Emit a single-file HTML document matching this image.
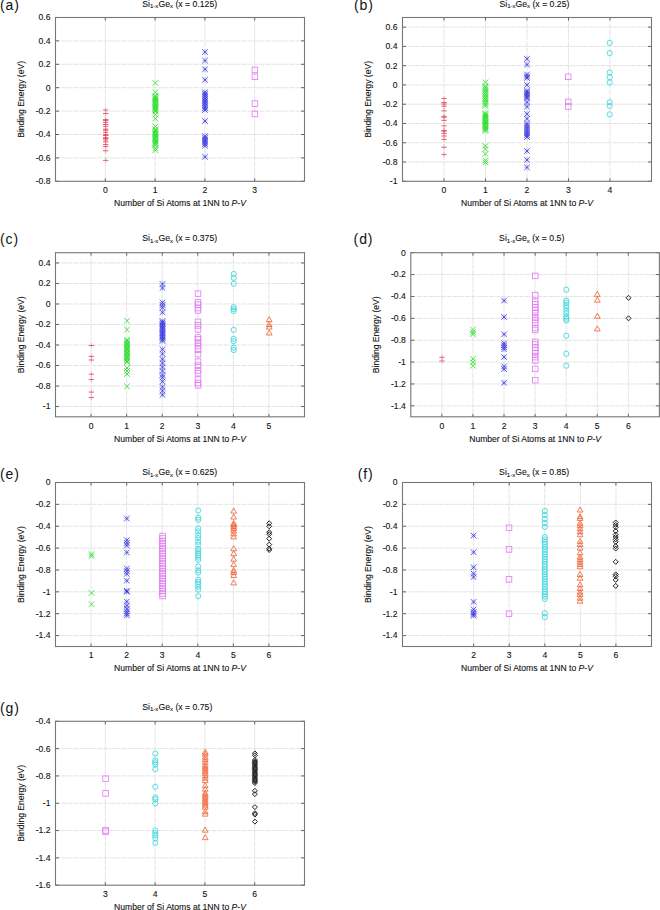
<!DOCTYPE html>
<html><head><meta charset="utf-8"><style>
html,body{margin:0;padding:0;background:#fff;}
svg{display:block;font-family:"Liberation Sans", sans-serif;}
text{stroke:#111;stroke-width:0.1px;}
#w{width:660px;height:910px;overflow:hidden;}
</style></head><body><div id="w">
<svg width="660" height="910" viewBox="0 0 660 910" fill="#111" stroke-width="0">
<rect width="660" height="910" fill="#fff"/>
<path d="M55.50 40.90H304.50M55.50 64.30H304.50M55.50 87.70H304.50M55.50 111.10H304.50M55.50 134.50H304.50M55.50 157.90H304.50M105.30 17.50V181.30M155.10 17.50V181.30M204.90 17.50V181.30M254.70 17.50V181.30" stroke="#dcdcdc" stroke-width="0.8" stroke-dasharray="5,1" fill="none"/>
<path d="M55.50 17.50h3.5M304.50 17.50h-3.5M55.50 40.90h3.5M304.50 40.90h-3.5M55.50 64.30h3.5M304.50 64.30h-3.5M55.50 87.70h3.5M304.50 87.70h-3.5M55.50 111.10h3.5M304.50 111.10h-3.5M55.50 134.50h3.5M304.50 134.50h-3.5M55.50 157.90h3.5M304.50 157.90h-3.5M55.50 181.30h3.5M304.50 181.30h-3.5M105.30 181.30v-3.0M105.30 17.50v3.0M155.10 181.30v-3.0M155.10 17.50v3.0M204.90 181.30v-3.0M204.90 17.50v3.0M254.70 181.30v-3.0M254.70 17.50v3.0" stroke="#555" stroke-width="0.9" fill="none"/>
<path d="M103.00 110.00H108.40" stroke="#e43c58" stroke-width="0.8" fill="none"/><path d="M105.70 107.30V112.70" stroke="#e43c58" stroke-width="0.8" stroke-opacity="0.45" fill="none"/>
<path d="M103.00 113.50H108.40" stroke="#e43c58" stroke-width="0.8" fill="none"/><path d="M105.70 110.80V116.20" stroke="#e43c58" stroke-width="0.8" stroke-opacity="0.45" fill="none"/>
<path d="M103.00 119.60H108.40" stroke="#e43c58" stroke-width="0.8" fill="none"/><path d="M105.70 116.90V122.30" stroke="#e43c58" stroke-width="0.8" stroke-opacity="0.45" fill="none"/>
<path d="M103.00 120.40H108.40" stroke="#e43c58" stroke-width="0.8" fill="none"/><path d="M105.70 117.70V123.10" stroke="#e43c58" stroke-width="0.8" stroke-opacity="0.45" fill="none"/>
<path d="M103.00 122.30H108.40" stroke="#e43c58" stroke-width="0.8" fill="none"/><path d="M105.70 119.60V125.00" stroke="#e43c58" stroke-width="0.8" stroke-opacity="0.45" fill="none"/>
<path d="M103.00 124.50H108.40" stroke="#e43c58" stroke-width="0.8" fill="none"/><path d="M105.70 121.80V127.20" stroke="#e43c58" stroke-width="0.8" stroke-opacity="0.45" fill="none"/>
<path d="M103.00 126.30H108.40" stroke="#e43c58" stroke-width="0.8" fill="none"/><path d="M105.70 123.60V129.00" stroke="#e43c58" stroke-width="0.8" stroke-opacity="0.45" fill="none"/>
<path d="M103.00 129.20H108.40" stroke="#e43c58" stroke-width="0.8" fill="none"/><path d="M105.70 126.50V131.90" stroke="#e43c58" stroke-width="0.8" stroke-opacity="0.45" fill="none"/>
<path d="M103.00 130.20H108.40" stroke="#e43c58" stroke-width="0.8" fill="none"/><path d="M105.70 127.50V132.90" stroke="#e43c58" stroke-width="0.8" stroke-opacity="0.45" fill="none"/>
<path d="M103.00 132.30H108.40" stroke="#e43c58" stroke-width="0.8" fill="none"/><path d="M105.70 129.60V135.00" stroke="#e43c58" stroke-width="0.8" stroke-opacity="0.45" fill="none"/>
<path d="M103.00 134.60H108.40" stroke="#e43c58" stroke-width="0.8" fill="none"/><path d="M105.70 131.90V137.30" stroke="#e43c58" stroke-width="0.8" stroke-opacity="0.45" fill="none"/>
<path d="M103.00 135.50H108.40" stroke="#e43c58" stroke-width="0.8" fill="none"/><path d="M105.70 132.80V138.20" stroke="#e43c58" stroke-width="0.8" stroke-opacity="0.45" fill="none"/>
<path d="M103.00 137.70H108.40" stroke="#e43c58" stroke-width="0.8" fill="none"/><path d="M105.70 135.00V140.40" stroke="#e43c58" stroke-width="0.8" stroke-opacity="0.45" fill="none"/>
<path d="M103.00 138.50H108.40" stroke="#e43c58" stroke-width="0.8" fill="none"/><path d="M105.70 135.80V141.20" stroke="#e43c58" stroke-width="0.8" stroke-opacity="0.45" fill="none"/>
<path d="M103.00 140.00H108.40" stroke="#e43c58" stroke-width="0.8" fill="none"/><path d="M105.70 137.30V142.70" stroke="#e43c58" stroke-width="0.8" stroke-opacity="0.45" fill="none"/>
<path d="M103.00 141.90H108.40" stroke="#e43c58" stroke-width="0.8" fill="none"/><path d="M105.70 139.20V144.60" stroke="#e43c58" stroke-width="0.8" stroke-opacity="0.45" fill="none"/>
<path d="M103.00 144.50H108.40" stroke="#e43c58" stroke-width="0.8" fill="none"/><path d="M105.70 141.80V147.20" stroke="#e43c58" stroke-width="0.8" stroke-opacity="0.45" fill="none"/>
<path d="M103.00 146.50H108.40" stroke="#e43c58" stroke-width="0.8" fill="none"/><path d="M105.70 143.80V149.20" stroke="#e43c58" stroke-width="0.8" stroke-opacity="0.45" fill="none"/>
<path d="M103.00 150.80H108.40" stroke="#e43c58" stroke-width="0.8" fill="none"/><path d="M105.70 148.10V153.50" stroke="#e43c58" stroke-width="0.8" stroke-opacity="0.45" fill="none"/>
<path d="M103.00 160.40H108.40" stroke="#e43c58" stroke-width="0.8" fill="none"/><path d="M105.70 157.70V163.10" stroke="#e43c58" stroke-width="0.8" stroke-opacity="0.45" fill="none"/>
<path d="M152.60 80.10L158.20 85.70M152.60 85.70L158.20 80.10" stroke="#22dd22" stroke-width="0.8" fill="none"/>
<path d="M152.60 89.50L158.20 95.10M152.60 95.10L158.20 89.50" stroke="#22dd22" stroke-width="0.8" fill="none"/>
<path d="M152.60 92.90L158.20 98.50M152.60 98.50L158.20 92.90" stroke="#22dd22" stroke-width="0.8" fill="none"/>
<path d="M152.60 94.12L158.20 99.72M152.60 99.72L158.20 94.12" stroke="#22dd22" stroke-width="0.8" fill="none"/>
<path d="M152.60 95.35L158.20 100.95M152.60 100.95L158.20 95.35" stroke="#22dd22" stroke-width="0.8" fill="none"/>
<path d="M152.60 96.57L158.20 102.17M152.60 102.17L158.20 96.57" stroke="#22dd22" stroke-width="0.8" fill="none"/>
<path d="M152.60 97.79L158.20 103.39M152.60 103.39L158.20 97.79" stroke="#22dd22" stroke-width="0.8" fill="none"/>
<path d="M152.60 99.02L158.20 104.62M152.60 104.62L158.20 99.02" stroke="#22dd22" stroke-width="0.8" fill="none"/>
<path d="M152.60 100.24L158.20 105.84M152.60 105.84L158.20 100.24" stroke="#22dd22" stroke-width="0.8" fill="none"/>
<path d="M152.60 101.46L158.20 107.06M152.60 107.06L158.20 101.46" stroke="#22dd22" stroke-width="0.8" fill="none"/>
<path d="M152.60 102.68L158.20 108.28M152.60 108.28L158.20 102.68" stroke="#22dd22" stroke-width="0.8" fill="none"/>
<path d="M152.60 103.91L158.20 109.51M152.60 109.51L158.20 103.91" stroke="#22dd22" stroke-width="0.8" fill="none"/>
<path d="M152.60 105.13L158.20 110.73M152.60 110.73L158.20 105.13" stroke="#22dd22" stroke-width="0.8" fill="none"/>
<path d="M152.60 106.35L158.20 111.95M152.60 111.95L158.20 106.35" stroke="#22dd22" stroke-width="0.8" fill="none"/>
<path d="M152.60 107.58L158.20 113.18M152.60 113.18L158.20 107.58" stroke="#22dd22" stroke-width="0.8" fill="none"/>
<path d="M152.60 108.80L158.20 114.40M152.60 114.40L158.20 108.80" stroke="#22dd22" stroke-width="0.8" fill="none"/>
<path d="M152.60 111.80L158.20 117.40M152.60 117.40L158.20 111.80" stroke="#22dd22" stroke-width="0.8" fill="none"/>
<path d="M152.60 115.70L158.20 121.30M152.60 121.30L158.20 115.70" stroke="#22dd22" stroke-width="0.8" fill="none"/>
<path d="M152.60 123.60L158.20 129.20M152.60 129.20L158.20 123.60" stroke="#22dd22" stroke-width="0.8" fill="none"/>
<path d="M152.60 126.60L158.20 132.20M152.60 132.20L158.20 126.60" stroke="#22dd22" stroke-width="0.8" fill="none"/>
<path d="M152.60 127.82L158.20 133.42M152.60 133.42L158.20 127.82" stroke="#22dd22" stroke-width="0.8" fill="none"/>
<path d="M152.60 129.03L158.20 134.63M152.60 134.63L158.20 129.03" stroke="#22dd22" stroke-width="0.8" fill="none"/>
<path d="M152.60 130.25L158.20 135.85M152.60 135.85L158.20 130.25" stroke="#22dd22" stroke-width="0.8" fill="none"/>
<path d="M152.60 131.46L158.20 137.06M152.60 137.06L158.20 131.46" stroke="#22dd22" stroke-width="0.8" fill="none"/>
<path d="M152.60 132.68L158.20 138.28M152.60 138.28L158.20 132.68" stroke="#22dd22" stroke-width="0.8" fill="none"/>
<path d="M152.60 133.89L158.20 139.49M152.60 139.49L158.20 133.89" stroke="#22dd22" stroke-width="0.8" fill="none"/>
<path d="M152.60 135.11L158.20 140.71M152.60 140.71L158.20 135.11" stroke="#22dd22" stroke-width="0.8" fill="none"/>
<path d="M152.60 136.32L158.20 141.92M152.60 141.92L158.20 136.32" stroke="#22dd22" stroke-width="0.8" fill="none"/>
<path d="M152.60 137.54L158.20 143.14M152.60 143.14L158.20 137.54" stroke="#22dd22" stroke-width="0.8" fill="none"/>
<path d="M152.60 138.75L158.20 144.35M152.60 144.35L158.20 138.75" stroke="#22dd22" stroke-width="0.8" fill="none"/>
<path d="M152.60 139.97L158.20 145.57M152.60 145.57L158.20 139.97" stroke="#22dd22" stroke-width="0.8" fill="none"/>
<path d="M152.60 141.18L158.20 146.78M152.60 146.78L158.20 141.18" stroke="#22dd22" stroke-width="0.8" fill="none"/>
<path d="M152.60 142.40L158.20 148.00M152.60 148.00L158.20 142.40" stroke="#22dd22" stroke-width="0.8" fill="none"/>
<path d="M152.60 145.40L158.20 151.00M152.60 151.00L158.20 145.40" stroke="#22dd22" stroke-width="0.8" fill="none"/>
<path d="M152.60 147.40L158.20 153.00M152.60 153.00L158.20 147.40" stroke="#22dd22" stroke-width="0.8" fill="none"/>
<path d="M202.20 49.30L207.80 54.90M202.20 54.90L207.80 49.30" stroke="#3434e0" stroke-width="0.8" fill="none"/><path d="M202.20 52.10H207.80M205.00 49.30V54.90" stroke="#3434e0" stroke-width="0.8" stroke-opacity="0.35" fill="none"/>
<path d="M202.20 57.80L207.80 63.40M202.20 63.40L207.80 57.80" stroke="#3434e0" stroke-width="0.8" fill="none"/><path d="M202.20 60.60H207.80M205.00 57.80V63.40" stroke="#3434e0" stroke-width="0.8" stroke-opacity="0.35" fill="none"/>
<path d="M202.20 66.50L207.80 72.10M202.20 72.10L207.80 66.50" stroke="#3434e0" stroke-width="0.8" fill="none"/><path d="M202.20 69.30H207.80M205.00 66.50V72.10" stroke="#3434e0" stroke-width="0.8" stroke-opacity="0.35" fill="none"/>
<path d="M202.20 77.00L207.80 82.60M202.20 82.60L207.80 77.00" stroke="#3434e0" stroke-width="0.8" fill="none"/><path d="M202.20 79.80H207.80M205.00 77.00V82.60" stroke="#3434e0" stroke-width="0.8" stroke-opacity="0.35" fill="none"/>
<path d="M202.20 89.40L207.80 95.00M202.20 95.00L207.80 89.40" stroke="#3434e0" stroke-width="0.8" fill="none"/><path d="M202.20 92.20H207.80M205.00 89.40V95.00" stroke="#3434e0" stroke-width="0.8" stroke-opacity="0.35" fill="none"/>
<path d="M202.20 91.18L207.80 96.78M202.20 96.78L207.80 91.18" stroke="#3434e0" stroke-width="0.8" fill="none"/><path d="M202.20 93.98H207.80M205.00 91.18V96.78" stroke="#3434e0" stroke-width="0.8" stroke-opacity="0.35" fill="none"/>
<path d="M202.20 92.96L207.80 98.56M202.20 98.56L207.80 92.96" stroke="#3434e0" stroke-width="0.8" fill="none"/><path d="M202.20 95.76H207.80M205.00 92.96V98.56" stroke="#3434e0" stroke-width="0.8" stroke-opacity="0.35" fill="none"/>
<path d="M202.20 94.74L207.80 100.34M202.20 100.34L207.80 94.74" stroke="#3434e0" stroke-width="0.8" fill="none"/><path d="M202.20 97.54H207.80M205.00 94.74V100.34" stroke="#3434e0" stroke-width="0.8" stroke-opacity="0.35" fill="none"/>
<path d="M202.20 96.52L207.80 102.12M202.20 102.12L207.80 96.52" stroke="#3434e0" stroke-width="0.8" fill="none"/><path d="M202.20 99.32H207.80M205.00 96.52V102.12" stroke="#3434e0" stroke-width="0.8" stroke-opacity="0.35" fill="none"/>
<path d="M202.20 98.30L207.80 103.90M202.20 103.90L207.80 98.30" stroke="#3434e0" stroke-width="0.8" fill="none"/><path d="M202.20 101.10H207.80M205.00 98.30V103.90" stroke="#3434e0" stroke-width="0.8" stroke-opacity="0.35" fill="none"/>
<path d="M202.20 100.08L207.80 105.68M202.20 105.68L207.80 100.08" stroke="#3434e0" stroke-width="0.8" fill="none"/><path d="M202.20 102.88H207.80M205.00 100.08V105.68" stroke="#3434e0" stroke-width="0.8" stroke-opacity="0.35" fill="none"/>
<path d="M202.20 101.86L207.80 107.46M202.20 107.46L207.80 101.86" stroke="#3434e0" stroke-width="0.8" fill="none"/><path d="M202.20 104.66H207.80M205.00 101.86V107.46" stroke="#3434e0" stroke-width="0.8" stroke-opacity="0.35" fill="none"/>
<path d="M202.20 103.64L207.80 109.24M202.20 109.24L207.80 103.64" stroke="#3434e0" stroke-width="0.8" fill="none"/><path d="M202.20 106.44H207.80M205.00 103.64V109.24" stroke="#3434e0" stroke-width="0.8" stroke-opacity="0.35" fill="none"/>
<path d="M202.20 105.42L207.80 111.02M202.20 111.02L207.80 105.42" stroke="#3434e0" stroke-width="0.8" fill="none"/><path d="M202.20 108.22H207.80M205.00 105.42V111.02" stroke="#3434e0" stroke-width="0.8" stroke-opacity="0.35" fill="none"/>
<path d="M202.20 107.20L207.80 112.80M202.20 112.80L207.80 107.20" stroke="#3434e0" stroke-width="0.8" fill="none"/><path d="M202.20 110.00H207.80M205.00 107.20V112.80" stroke="#3434e0" stroke-width="0.8" stroke-opacity="0.35" fill="none"/>
<path d="M202.20 118.20L207.80 123.80M202.20 123.80L207.80 118.20" stroke="#3434e0" stroke-width="0.8" fill="none"/><path d="M202.20 121.00H207.80M205.00 118.20V123.80" stroke="#3434e0" stroke-width="0.8" stroke-opacity="0.35" fill="none"/>
<path d="M202.20 133.40L207.80 139.00M202.20 139.00L207.80 133.40" stroke="#3434e0" stroke-width="0.8" fill="none"/><path d="M202.20 136.20H207.80M205.00 133.40V139.00" stroke="#3434e0" stroke-width="0.8" stroke-opacity="0.35" fill="none"/>
<path d="M202.20 135.32L207.80 140.92M202.20 140.92L207.80 135.32" stroke="#3434e0" stroke-width="0.8" fill="none"/><path d="M202.20 138.12H207.80M205.00 135.32V140.92" stroke="#3434e0" stroke-width="0.8" stroke-opacity="0.35" fill="none"/>
<path d="M202.20 137.24L207.80 142.84M202.20 142.84L207.80 137.24" stroke="#3434e0" stroke-width="0.8" fill="none"/><path d="M202.20 140.04H207.80M205.00 137.24V142.84" stroke="#3434e0" stroke-width="0.8" stroke-opacity="0.35" fill="none"/>
<path d="M202.20 139.16L207.80 144.76M202.20 144.76L207.80 139.16" stroke="#3434e0" stroke-width="0.8" fill="none"/><path d="M202.20 141.96H207.80M205.00 139.16V144.76" stroke="#3434e0" stroke-width="0.8" stroke-opacity="0.35" fill="none"/>
<path d="M202.20 141.08L207.80 146.68M202.20 146.68L207.80 141.08" stroke="#3434e0" stroke-width="0.8" fill="none"/><path d="M202.20 143.88H207.80M205.00 141.08V146.68" stroke="#3434e0" stroke-width="0.8" stroke-opacity="0.35" fill="none"/>
<path d="M202.20 143.00L207.80 148.60M202.20 148.60L207.80 143.00" stroke="#3434e0" stroke-width="0.8" fill="none"/><path d="M202.20 145.80H207.80M205.00 143.00V148.60" stroke="#3434e0" stroke-width="0.8" stroke-opacity="0.35" fill="none"/>
<path d="M202.20 154.00L207.80 159.60M202.20 159.60L207.80 154.00" stroke="#3434e0" stroke-width="0.8" fill="none"/><path d="M202.20 156.80H207.80M205.00 154.00V159.60" stroke="#3434e0" stroke-width="0.8" stroke-opacity="0.35" fill="none"/>
<rect x="252.10" y="67.10" width="5.60" height="5.60" stroke="#e27af2" stroke-width="0.8" fill="none"/>
<rect x="252.10" y="74.00" width="5.60" height="5.60" stroke="#e27af2" stroke-width="0.8" fill="none"/>
<rect x="252.10" y="100.80" width="5.60" height="5.60" stroke="#e27af2" stroke-width="0.8" fill="none"/>
<rect x="252.10" y="111.10" width="5.60" height="5.60" stroke="#e27af2" stroke-width="0.8" fill="none"/>
<rect x="55.50" y="17.50" width="249.00" height="163.80" stroke="#777777" stroke-width="1.1" fill="none"/>
<text x="50.50" y="20.40" font-size="8.6" text-anchor="end">0.6</text>
<text x="50.50" y="43.80" font-size="8.6" text-anchor="end">0.4</text>
<text x="50.50" y="67.20" font-size="8.6" text-anchor="end">0.2</text>
<text x="50.50" y="90.60" font-size="8.6" text-anchor="end">0</text>
<text x="50.50" y="114.00" font-size="8.6" text-anchor="end">-0.2</text>
<text x="50.50" y="137.40" font-size="8.6" text-anchor="end">-0.4</text>
<text x="50.50" y="160.80" font-size="8.6" text-anchor="end">-0.6</text>
<text x="50.50" y="184.20" font-size="8.6" text-anchor="end">-0.8</text>
<text x="105.30" y="193.20" font-size="8.6" text-anchor="middle">0</text>
<text x="155.10" y="193.20" font-size="8.6" text-anchor="middle">1</text>
<text x="204.90" y="193.20" font-size="8.6" text-anchor="middle">2</text>
<text x="254.70" y="193.20" font-size="8.6" text-anchor="middle">3</text>
<text x="180.00" y="206.10" font-size="8.6" text-anchor="middle">Number of Si Atoms at 1NN to <tspan font-style="italic">P-V</tspan></text>
<text transform="translate(23.90,99.40) rotate(-90)" x="0" y="0" font-size="8.6" text-anchor="middle">Binding Energy (eV)</text>
<text x="142.30" y="6.50" font-size="8.7">Si<tspan font-size="6.0" dy="1.8">1-x</tspan><tspan dy="-1.8">Ge</tspan><tspan font-size="6.0" dy="1.8">x</tspan><tspan dy="-1.8"> (x = 0.125)</tspan></text>
<text x="0.00" y="9.70" font-size="14" letter-spacing="0.9" style="stroke-width:0">(a)</text>
<path d="M402.50 27.14H651.50M402.50 46.41H651.50M402.50 65.68H651.50M402.50 84.95H651.50M402.50 104.22H651.50M402.50 123.49H651.50M402.50 142.76H651.50M402.50 162.03H651.50M444.00 17.50V181.30M485.50 17.50V181.30M527.00 17.50V181.30M568.50 17.50V181.30M610.00 17.50V181.30" stroke="#dcdcdc" stroke-width="0.8" stroke-dasharray="5,1" fill="none"/>
<path d="M402.50 27.14h3.5M651.50 27.14h-3.5M402.50 46.41h3.5M651.50 46.41h-3.5M402.50 65.68h3.5M651.50 65.68h-3.5M402.50 84.95h3.5M651.50 84.95h-3.5M402.50 104.22h3.5M651.50 104.22h-3.5M402.50 123.49h3.5M651.50 123.49h-3.5M402.50 142.76h3.5M651.50 142.76h-3.5M402.50 162.03h3.5M651.50 162.03h-3.5M402.50 181.30h3.5M651.50 181.30h-3.5M444.00 181.30v-3.0M444.00 17.50v3.0M485.50 181.30v-3.0M485.50 17.50v3.0M527.00 181.30v-3.0M527.00 17.50v3.0M568.50 181.30v-3.0M568.50 17.50v3.0M610.00 181.30v-3.0M610.00 17.50v3.0" stroke="#555" stroke-width="0.9" fill="none"/>
<path d="M441.40 98.50H446.80" stroke="#e43c58" stroke-width="0.8" fill="none"/><path d="M444.10 95.80V101.20" stroke="#e43c58" stroke-width="0.8" stroke-opacity="0.45" fill="none"/>
<path d="M441.40 102.50H446.80" stroke="#e43c58" stroke-width="0.8" fill="none"/><path d="M444.10 99.80V105.20" stroke="#e43c58" stroke-width="0.8" stroke-opacity="0.45" fill="none"/>
<path d="M441.40 104.00H446.80" stroke="#e43c58" stroke-width="0.8" fill="none"/><path d="M444.10 101.30V106.70" stroke="#e43c58" stroke-width="0.8" stroke-opacity="0.45" fill="none"/>
<path d="M441.40 106.20H446.80" stroke="#e43c58" stroke-width="0.8" fill="none"/><path d="M444.10 103.50V108.90" stroke="#e43c58" stroke-width="0.8" stroke-opacity="0.45" fill="none"/>
<path d="M441.40 110.90H446.80" stroke="#e43c58" stroke-width="0.8" fill="none"/><path d="M444.10 108.20V113.60" stroke="#e43c58" stroke-width="0.8" stroke-opacity="0.45" fill="none"/>
<path d="M441.40 116.30H446.80" stroke="#e43c58" stroke-width="0.8" fill="none"/><path d="M444.10 113.60V119.00" stroke="#e43c58" stroke-width="0.8" stroke-opacity="0.45" fill="none"/>
<path d="M441.40 117.20H446.80" stroke="#e43c58" stroke-width="0.8" fill="none"/><path d="M444.10 114.50V119.90" stroke="#e43c58" stroke-width="0.8" stroke-opacity="0.45" fill="none"/>
<path d="M441.40 120.40H446.80" stroke="#e43c58" stroke-width="0.8" fill="none"/><path d="M444.10 117.70V123.10" stroke="#e43c58" stroke-width="0.8" stroke-opacity="0.45" fill="none"/>
<path d="M441.40 125.80H446.80" stroke="#e43c58" stroke-width="0.8" fill="none"/><path d="M444.10 123.10V128.50" stroke="#e43c58" stroke-width="0.8" stroke-opacity="0.45" fill="none"/>
<path d="M441.40 130.50H446.80" stroke="#e43c58" stroke-width="0.8" fill="none"/><path d="M444.10 127.80V133.20" stroke="#e43c58" stroke-width="0.8" stroke-opacity="0.45" fill="none"/>
<path d="M441.40 131.20H446.80" stroke="#e43c58" stroke-width="0.8" fill="none"/><path d="M444.10 128.50V133.90" stroke="#e43c58" stroke-width="0.8" stroke-opacity="0.45" fill="none"/>
<path d="M441.40 133.40H446.80" stroke="#e43c58" stroke-width="0.8" fill="none"/><path d="M444.10 130.70V136.10" stroke="#e43c58" stroke-width="0.8" stroke-opacity="0.45" fill="none"/>
<path d="M441.40 136.00H446.80" stroke="#e43c58" stroke-width="0.8" fill="none"/><path d="M444.10 133.30V138.70" stroke="#e43c58" stroke-width="0.8" stroke-opacity="0.45" fill="none"/>
<path d="M441.40 139.40H446.80" stroke="#e43c58" stroke-width="0.8" fill="none"/><path d="M444.10 136.70V142.10" stroke="#e43c58" stroke-width="0.8" stroke-opacity="0.45" fill="none"/>
<path d="M441.40 147.30H446.80" stroke="#e43c58" stroke-width="0.8" fill="none"/><path d="M444.10 144.60V150.00" stroke="#e43c58" stroke-width="0.8" stroke-opacity="0.45" fill="none"/>
<path d="M441.40 154.60H446.80" stroke="#e43c58" stroke-width="0.8" fill="none"/><path d="M444.10 151.90V157.30" stroke="#e43c58" stroke-width="0.8" stroke-opacity="0.45" fill="none"/>
<path d="M482.60 79.50L488.20 85.10M482.60 85.10L488.20 79.50" stroke="#22dd22" stroke-width="0.8" fill="none"/>
<path d="M482.60 83.20L488.20 88.80M482.60 88.80L488.20 83.20" stroke="#22dd22" stroke-width="0.8" fill="none"/>
<path d="M482.60 84.87L488.20 90.47M482.60 90.47L488.20 84.87" stroke="#22dd22" stroke-width="0.8" fill="none"/>
<path d="M482.60 86.53L488.20 92.13M482.60 92.13L488.20 86.53" stroke="#22dd22" stroke-width="0.8" fill="none"/>
<path d="M482.60 88.20L488.20 93.80M482.60 93.80L488.20 88.20" stroke="#22dd22" stroke-width="0.8" fill="none"/>
<path d="M482.60 89.87L488.20 95.47M482.60 95.47L488.20 89.87" stroke="#22dd22" stroke-width="0.8" fill="none"/>
<path d="M482.60 91.53L488.20 97.13M482.60 97.13L488.20 91.53" stroke="#22dd22" stroke-width="0.8" fill="none"/>
<path d="M482.60 93.20L488.20 98.80M482.60 98.80L488.20 93.20" stroke="#22dd22" stroke-width="0.8" fill="none"/>
<path d="M482.60 94.87L488.20 100.47M482.60 100.47L488.20 94.87" stroke="#22dd22" stroke-width="0.8" fill="none"/>
<path d="M482.60 96.53L488.20 102.13M482.60 102.13L488.20 96.53" stroke="#22dd22" stroke-width="0.8" fill="none"/>
<path d="M482.60 98.20L488.20 103.80M482.60 103.80L488.20 98.20" stroke="#22dd22" stroke-width="0.8" fill="none"/>
<path d="M482.60 99.87L488.20 105.47M482.60 105.47L488.20 99.87" stroke="#22dd22" stroke-width="0.8" fill="none"/>
<path d="M482.60 101.53L488.20 107.13M482.60 107.13L488.20 101.53" stroke="#22dd22" stroke-width="0.8" fill="none"/>
<path d="M482.60 103.20L488.20 108.80M482.60 108.80L488.20 103.20" stroke="#22dd22" stroke-width="0.8" fill="none"/>
<path d="M482.60 110.20L488.20 115.80M482.60 115.80L488.20 110.20" stroke="#22dd22" stroke-width="0.8" fill="none"/>
<path d="M482.60 111.40L488.20 117.00M482.60 117.00L488.20 111.40" stroke="#22dd22" stroke-width="0.8" fill="none"/>
<path d="M482.60 112.60L488.20 118.20M482.60 118.20L488.20 112.60" stroke="#22dd22" stroke-width="0.8" fill="none"/>
<path d="M482.60 113.80L488.20 119.40M482.60 119.40L488.20 113.80" stroke="#22dd22" stroke-width="0.8" fill="none"/>
<path d="M482.60 115.00L488.20 120.60M482.60 120.60L488.20 115.00" stroke="#22dd22" stroke-width="0.8" fill="none"/>
<path d="M482.60 116.20L488.20 121.80M482.60 121.80L488.20 116.20" stroke="#22dd22" stroke-width="0.8" fill="none"/>
<path d="M482.60 117.40L488.20 123.00M482.60 123.00L488.20 117.40" stroke="#22dd22" stroke-width="0.8" fill="none"/>
<path d="M482.60 118.60L488.20 124.20M482.60 124.20L488.20 118.60" stroke="#22dd22" stroke-width="0.8" fill="none"/>
<path d="M482.60 119.80L488.20 125.40M482.60 125.40L488.20 119.80" stroke="#22dd22" stroke-width="0.8" fill="none"/>
<path d="M482.60 121.00L488.20 126.60M482.60 126.60L488.20 121.00" stroke="#22dd22" stroke-width="0.8" fill="none"/>
<path d="M482.60 122.20L488.20 127.80M482.60 127.80L488.20 122.20" stroke="#22dd22" stroke-width="0.8" fill="none"/>
<path d="M482.60 123.40L488.20 129.00M482.60 129.00L488.20 123.40" stroke="#22dd22" stroke-width="0.8" fill="none"/>
<path d="M482.60 124.60L488.20 130.20M482.60 130.20L488.20 124.60" stroke="#22dd22" stroke-width="0.8" fill="none"/>
<path d="M482.60 125.80L488.20 131.40M482.60 131.40L488.20 125.80" stroke="#22dd22" stroke-width="0.8" fill="none"/>
<path d="M482.60 127.00L488.20 132.60M482.60 132.60L488.20 127.00" stroke="#22dd22" stroke-width="0.8" fill="none"/>
<path d="M482.60 128.20L488.20 133.80M482.60 133.80L488.20 128.20" stroke="#22dd22" stroke-width="0.8" fill="none"/>
<path d="M482.60 143.20L488.20 148.80M482.60 148.80L488.20 143.20" stroke="#22dd22" stroke-width="0.8" fill="none"/>
<path d="M482.60 146.20L488.20 151.80M482.60 151.80L488.20 146.20" stroke="#22dd22" stroke-width="0.8" fill="none"/>
<path d="M482.60 151.20L488.20 156.80M482.60 156.80L488.20 151.20" stroke="#22dd22" stroke-width="0.8" fill="none"/>
<path d="M482.60 157.70L488.20 163.30M482.60 163.30L488.20 157.70" stroke="#22dd22" stroke-width="0.8" fill="none"/>
<path d="M482.60 159.70L488.20 165.30M482.60 165.30L488.20 159.70" stroke="#22dd22" stroke-width="0.8" fill="none"/>
<path d="M524.20 56.00L529.80 61.60M524.20 61.60L529.80 56.00" stroke="#3434e0" stroke-width="0.8" fill="none"/><path d="M524.20 58.80H529.80M527.00 56.00V61.60" stroke="#3434e0" stroke-width="0.8" stroke-opacity="0.35" fill="none"/>
<path d="M524.20 61.80L529.80 67.40M524.20 67.40L529.80 61.80" stroke="#3434e0" stroke-width="0.8" fill="none"/><path d="M524.20 64.60H529.80M527.00 61.80V67.40" stroke="#3434e0" stroke-width="0.8" stroke-opacity="0.35" fill="none"/>
<path d="M524.20 71.70L529.80 77.30M524.20 77.30L529.80 71.70" stroke="#3434e0" stroke-width="0.8" fill="none"/><path d="M524.20 74.50H529.80M527.00 71.70V77.30" stroke="#3434e0" stroke-width="0.8" stroke-opacity="0.35" fill="none"/>
<path d="M524.20 73.70L529.80 79.30M524.20 79.30L529.80 73.70" stroke="#3434e0" stroke-width="0.8" fill="none"/><path d="M524.20 76.50H529.80M527.00 73.70V79.30" stroke="#3434e0" stroke-width="0.8" stroke-opacity="0.35" fill="none"/>
<path d="M524.20 75.20L529.80 80.80M524.20 80.80L529.80 75.20" stroke="#3434e0" stroke-width="0.8" fill="none"/><path d="M524.20 78.00H529.80M527.00 75.20V80.80" stroke="#3434e0" stroke-width="0.8" stroke-opacity="0.35" fill="none"/>
<path d="M524.20 82.10L529.80 87.70M524.20 87.70L529.80 82.10" stroke="#3434e0" stroke-width="0.8" fill="none"/><path d="M524.20 84.90H529.80M527.00 82.10V87.70" stroke="#3434e0" stroke-width="0.8" stroke-opacity="0.35" fill="none"/>
<path d="M524.20 87.90L529.80 93.50M524.20 93.50L529.80 87.90" stroke="#3434e0" stroke-width="0.8" fill="none"/><path d="M524.20 90.70H529.80M527.00 87.90V93.50" stroke="#3434e0" stroke-width="0.8" stroke-opacity="0.35" fill="none"/>
<path d="M524.20 89.44L529.80 95.04M524.20 95.04L529.80 89.44" stroke="#3434e0" stroke-width="0.8" fill="none"/><path d="M524.20 92.24H529.80M527.00 89.44V95.04" stroke="#3434e0" stroke-width="0.8" stroke-opacity="0.35" fill="none"/>
<path d="M524.20 90.98L529.80 96.58M524.20 96.58L529.80 90.98" stroke="#3434e0" stroke-width="0.8" fill="none"/><path d="M524.20 93.78H529.80M527.00 90.98V96.58" stroke="#3434e0" stroke-width="0.8" stroke-opacity="0.35" fill="none"/>
<path d="M524.20 92.52L529.80 98.12M524.20 98.12L529.80 92.52" stroke="#3434e0" stroke-width="0.8" fill="none"/><path d="M524.20 95.32H529.80M527.00 92.52V98.12" stroke="#3434e0" stroke-width="0.8" stroke-opacity="0.35" fill="none"/>
<path d="M524.20 94.06L529.80 99.66M524.20 99.66L529.80 94.06" stroke="#3434e0" stroke-width="0.8" fill="none"/><path d="M524.20 96.86H529.80M527.00 94.06V99.66" stroke="#3434e0" stroke-width="0.8" stroke-opacity="0.35" fill="none"/>
<path d="M524.20 95.60L529.80 101.20M524.20 101.20L529.80 95.60" stroke="#3434e0" stroke-width="0.8" fill="none"/><path d="M524.20 98.40H529.80M527.00 95.60V101.20" stroke="#3434e0" stroke-width="0.8" stroke-opacity="0.35" fill="none"/>
<path d="M524.20 99.50L529.80 105.10M524.20 105.10L529.80 99.50" stroke="#3434e0" stroke-width="0.8" fill="none"/><path d="M524.20 102.30H529.80M527.00 99.50V105.10" stroke="#3434e0" stroke-width="0.8" stroke-opacity="0.35" fill="none"/>
<path d="M524.20 103.80L529.80 109.40M524.20 109.40L529.80 103.80" stroke="#3434e0" stroke-width="0.8" fill="none"/><path d="M524.20 106.60H529.80M527.00 103.80V109.40" stroke="#3434e0" stroke-width="0.8" stroke-opacity="0.35" fill="none"/>
<path d="M524.20 111.10L529.80 116.70M524.20 116.70L529.80 111.10" stroke="#3434e0" stroke-width="0.8" fill="none"/><path d="M524.20 113.90H529.80M527.00 111.10V116.70" stroke="#3434e0" stroke-width="0.8" stroke-opacity="0.35" fill="none"/>
<path d="M524.20 115.90L529.80 121.50M524.20 121.50L529.80 115.90" stroke="#3434e0" stroke-width="0.8" fill="none"/><path d="M524.20 118.70H529.80M527.00 115.90V121.50" stroke="#3434e0" stroke-width="0.8" stroke-opacity="0.35" fill="none"/>
<path d="M524.20 120.80L529.80 126.40M524.20 126.40L529.80 120.80" stroke="#3434e0" stroke-width="0.8" fill="none"/><path d="M524.20 123.60H529.80M527.00 120.80V126.40" stroke="#3434e0" stroke-width="0.8" stroke-opacity="0.35" fill="none"/>
<path d="M524.20 122.71L529.80 128.31M524.20 128.31L529.80 122.71" stroke="#3434e0" stroke-width="0.8" fill="none"/><path d="M524.20 125.51H529.80M527.00 122.71V128.31" stroke="#3434e0" stroke-width="0.8" stroke-opacity="0.35" fill="none"/>
<path d="M524.20 124.63L529.80 130.23M524.20 130.23L529.80 124.63" stroke="#3434e0" stroke-width="0.8" fill="none"/><path d="M524.20 127.43H529.80M527.00 124.63V130.23" stroke="#3434e0" stroke-width="0.8" stroke-opacity="0.35" fill="none"/>
<path d="M524.20 126.54L529.80 132.14M524.20 132.14L529.80 126.54" stroke="#3434e0" stroke-width="0.8" fill="none"/><path d="M524.20 129.34H529.80M527.00 126.54V132.14" stroke="#3434e0" stroke-width="0.8" stroke-opacity="0.35" fill="none"/>
<path d="M524.20 128.46L529.80 134.06M524.20 134.06L529.80 128.46" stroke="#3434e0" stroke-width="0.8" fill="none"/><path d="M524.20 131.26H529.80M527.00 128.46V134.06" stroke="#3434e0" stroke-width="0.8" stroke-opacity="0.35" fill="none"/>
<path d="M524.20 130.37L529.80 135.97M524.20 135.97L529.80 130.37" stroke="#3434e0" stroke-width="0.8" fill="none"/><path d="M524.20 133.17H529.80M527.00 130.37V135.97" stroke="#3434e0" stroke-width="0.8" stroke-opacity="0.35" fill="none"/>
<path d="M524.20 132.29L529.80 137.89M524.20 137.89L529.80 132.29" stroke="#3434e0" stroke-width="0.8" fill="none"/><path d="M524.20 135.09H529.80M527.00 132.29V137.89" stroke="#3434e0" stroke-width="0.8" stroke-opacity="0.35" fill="none"/>
<path d="M524.20 134.20L529.80 139.80M524.20 139.80L529.80 134.20" stroke="#3434e0" stroke-width="0.8" fill="none"/><path d="M524.20 137.00H529.80M527.00 134.20V139.80" stroke="#3434e0" stroke-width="0.8" stroke-opacity="0.35" fill="none"/>
<path d="M524.20 148.20L529.80 153.80M524.20 153.80L529.80 148.20" stroke="#3434e0" stroke-width="0.8" fill="none"/><path d="M524.20 151.00H529.80M527.00 148.20V153.80" stroke="#3434e0" stroke-width="0.8" stroke-opacity="0.35" fill="none"/>
<path d="M524.20 157.10L529.80 162.70M524.20 162.70L529.80 157.10" stroke="#3434e0" stroke-width="0.8" fill="none"/><path d="M524.20 159.90H529.80M527.00 157.10V162.70" stroke="#3434e0" stroke-width="0.8" stroke-opacity="0.35" fill="none"/>
<path d="M524.20 164.60L529.80 170.20M524.20 170.20L529.80 164.60" stroke="#3434e0" stroke-width="0.8" fill="none"/><path d="M524.20 167.40H529.80M527.00 164.60V170.20" stroke="#3434e0" stroke-width="0.8" stroke-opacity="0.35" fill="none"/>
<rect x="565.40" y="74.00" width="5.60" height="5.60" stroke="#e27af2" stroke-width="0.8" fill="none"/>
<rect x="565.40" y="99.10" width="5.60" height="5.60" stroke="#e27af2" stroke-width="0.8" fill="none"/>
<rect x="565.40" y="103.70" width="5.60" height="5.60" stroke="#e27af2" stroke-width="0.8" fill="none"/>
<circle cx="609.70" cy="42.90" r="2.6" stroke="#30d4dc" stroke-width="0.8" fill="none"/>
<circle cx="609.70" cy="53.10" r="2.6" stroke="#30d4dc" stroke-width="0.8" fill="none"/>
<circle cx="609.70" cy="72.50" r="2.6" stroke="#30d4dc" stroke-width="0.8" fill="none"/>
<circle cx="609.70" cy="77.20" r="2.6" stroke="#30d4dc" stroke-width="0.8" fill="none"/>
<circle cx="609.70" cy="82.50" r="2.6" stroke="#30d4dc" stroke-width="0.8" fill="none"/>
<circle cx="609.70" cy="102.30" r="2.6" stroke="#30d4dc" stroke-width="0.8" fill="none"/>
<circle cx="609.70" cy="105.90" r="2.6" stroke="#30d4dc" stroke-width="0.8" fill="none"/>
<circle cx="609.70" cy="114.40" r="2.6" stroke="#30d4dc" stroke-width="0.8" fill="none"/>
<rect x="402.50" y="17.50" width="249.00" height="163.80" stroke="#777777" stroke-width="1.1" fill="none"/>
<text x="397.50" y="30.04" font-size="8.6" text-anchor="end">0.6</text>
<text x="397.50" y="49.31" font-size="8.6" text-anchor="end">0.4</text>
<text x="397.50" y="68.58" font-size="8.6" text-anchor="end">0.2</text>
<text x="397.50" y="87.85" font-size="8.6" text-anchor="end">0</text>
<text x="397.50" y="107.12" font-size="8.6" text-anchor="end">-0.2</text>
<text x="397.50" y="126.39" font-size="8.6" text-anchor="end">-0.4</text>
<text x="397.50" y="145.66" font-size="8.6" text-anchor="end">-0.6</text>
<text x="397.50" y="164.93" font-size="8.6" text-anchor="end">-0.8</text>
<text x="397.50" y="184.20" font-size="8.6" text-anchor="end">-1</text>
<text x="444.00" y="193.20" font-size="8.6" text-anchor="middle">0</text>
<text x="485.50" y="193.20" font-size="8.6" text-anchor="middle">1</text>
<text x="527.00" y="193.20" font-size="8.6" text-anchor="middle">2</text>
<text x="568.50" y="193.20" font-size="8.6" text-anchor="middle">3</text>
<text x="610.00" y="193.20" font-size="8.6" text-anchor="middle">4</text>
<text x="527.00" y="206.10" font-size="8.6" text-anchor="middle">Number of Si Atoms at 1NN to <tspan font-style="italic">P-V</tspan></text>
<text transform="translate(370.90,99.40) rotate(-90)" x="0" y="0" font-size="8.6" text-anchor="middle">Binding Energy (eV)</text>
<text x="499.40" y="6.50" font-size="8.7">Si<tspan font-size="6.0" dy="1.8">1-x</tspan><tspan dy="-1.8">Ge</tspan><tspan font-size="6.0" dy="1.8">x</tspan><tspan dy="-1.8"> (x = 0.25)</tspan></text>
<text x="354.00" y="9.70" font-size="14" letter-spacing="0.9" style="stroke-width:0">(b)</text>
<path d="M55.50 262.96H304.50M55.50 283.47H304.50M55.50 303.98H304.50M55.50 324.49H304.50M55.50 345.01H304.50M55.50 365.52H304.50M55.50 386.03H304.50M55.50 406.54H304.50M91.07 252.70V416.80M126.64 252.70V416.80M162.21 252.70V416.80M197.79 252.70V416.80M233.36 252.70V416.80M268.93 252.70V416.80" stroke="#dcdcdc" stroke-width="0.8" stroke-dasharray="5,1" fill="none"/>
<path d="M55.50 262.96h3.5M304.50 262.96h-3.5M55.50 283.47h3.5M304.50 283.47h-3.5M55.50 303.98h3.5M304.50 303.98h-3.5M55.50 324.49h3.5M304.50 324.49h-3.5M55.50 345.01h3.5M304.50 345.01h-3.5M55.50 365.52h3.5M304.50 365.52h-3.5M55.50 386.03h3.5M304.50 386.03h-3.5M55.50 406.54h3.5M304.50 406.54h-3.5M91.07 416.80v-3.0M91.07 252.70v3.0M126.64 416.80v-3.0M126.64 252.70v3.0M162.21 416.80v-3.0M162.21 252.70v3.0M197.79 416.80v-3.0M197.79 252.70v3.0M233.36 416.80v-3.0M233.36 252.70v3.0M268.93 416.80v-3.0M268.93 252.70v3.0" stroke="#555" stroke-width="0.9" fill="none"/>
<path d="M88.70 345.50H94.10" stroke="#e43c58" stroke-width="0.8" fill="none"/><path d="M91.40 342.80V348.20" stroke="#e43c58" stroke-width="0.8" stroke-opacity="0.45" fill="none"/>
<path d="M88.70 356.40H94.10" stroke="#e43c58" stroke-width="0.8" fill="none"/><path d="M91.40 353.70V359.10" stroke="#e43c58" stroke-width="0.8" stroke-opacity="0.45" fill="none"/>
<path d="M88.70 360.00H94.10" stroke="#e43c58" stroke-width="0.8" fill="none"/><path d="M91.40 357.30V362.70" stroke="#e43c58" stroke-width="0.8" stroke-opacity="0.45" fill="none"/>
<path d="M88.70 374.10H94.10" stroke="#e43c58" stroke-width="0.8" fill="none"/><path d="M91.40 371.40V376.80" stroke="#e43c58" stroke-width="0.8" stroke-opacity="0.45" fill="none"/>
<path d="M88.70 379.50H94.10" stroke="#e43c58" stroke-width="0.8" fill="none"/><path d="M91.40 376.80V382.20" stroke="#e43c58" stroke-width="0.8" stroke-opacity="0.45" fill="none"/>
<path d="M88.70 392.10H94.10" stroke="#e43c58" stroke-width="0.8" fill="none"/><path d="M91.40 389.40V394.80" stroke="#e43c58" stroke-width="0.8" stroke-opacity="0.45" fill="none"/>
<path d="M88.70 397.50H94.10" stroke="#e43c58" stroke-width="0.8" fill="none"/><path d="M91.40 394.80V400.20" stroke="#e43c58" stroke-width="0.8" stroke-opacity="0.45" fill="none"/>
<path d="M124.20 317.90L129.80 323.50M124.20 323.50L129.80 317.90" stroke="#22dd22" stroke-width="0.8" fill="none"/>
<path d="M124.20 326.80L129.80 332.40M124.20 332.40L129.80 326.80" stroke="#22dd22" stroke-width="0.8" fill="none"/>
<path d="M124.20 337.20L129.80 342.80M124.20 342.80L129.80 337.20" stroke="#22dd22" stroke-width="0.8" fill="none"/>
<path d="M124.20 338.49L129.80 344.09M124.20 344.09L129.80 338.49" stroke="#22dd22" stroke-width="0.8" fill="none"/>
<path d="M124.20 339.79L129.80 345.39M124.20 345.39L129.80 339.79" stroke="#22dd22" stroke-width="0.8" fill="none"/>
<path d="M124.20 341.08L129.80 346.68M124.20 346.68L129.80 341.08" stroke="#22dd22" stroke-width="0.8" fill="none"/>
<path d="M124.20 342.38L129.80 347.98M124.20 347.98L129.80 342.38" stroke="#22dd22" stroke-width="0.8" fill="none"/>
<path d="M124.20 343.67L129.80 349.27M124.20 349.27L129.80 343.67" stroke="#22dd22" stroke-width="0.8" fill="none"/>
<path d="M124.20 344.96L129.80 350.56M124.20 350.56L129.80 344.96" stroke="#22dd22" stroke-width="0.8" fill="none"/>
<path d="M124.20 346.26L129.80 351.86M124.20 351.86L129.80 346.26" stroke="#22dd22" stroke-width="0.8" fill="none"/>
<path d="M124.20 347.55L129.80 353.15M124.20 353.15L129.80 347.55" stroke="#22dd22" stroke-width="0.8" fill="none"/>
<path d="M124.20 348.85L129.80 354.45M124.20 354.45L129.80 348.85" stroke="#22dd22" stroke-width="0.8" fill="none"/>
<path d="M124.20 350.14L129.80 355.74M124.20 355.74L129.80 350.14" stroke="#22dd22" stroke-width="0.8" fill="none"/>
<path d="M124.20 351.44L129.80 357.04M124.20 357.04L129.80 351.44" stroke="#22dd22" stroke-width="0.8" fill="none"/>
<path d="M124.20 352.73L129.80 358.33M124.20 358.33L129.80 352.73" stroke="#22dd22" stroke-width="0.8" fill="none"/>
<path d="M124.20 354.02L129.80 359.62M124.20 359.62L129.80 354.02" stroke="#22dd22" stroke-width="0.8" fill="none"/>
<path d="M124.20 355.32L129.80 360.92M124.20 360.92L129.80 355.32" stroke="#22dd22" stroke-width="0.8" fill="none"/>
<path d="M124.20 356.61L129.80 362.21M124.20 362.21L129.80 356.61" stroke="#22dd22" stroke-width="0.8" fill="none"/>
<path d="M124.20 357.91L129.80 363.51M124.20 363.51L129.80 357.91" stroke="#22dd22" stroke-width="0.8" fill="none"/>
<path d="M124.20 359.20L129.80 364.80M124.20 364.80L129.80 359.20" stroke="#22dd22" stroke-width="0.8" fill="none"/>
<path d="M124.20 365.20L129.80 370.80M124.20 370.80L129.80 365.20" stroke="#22dd22" stroke-width="0.8" fill="none"/>
<path d="M124.20 368.20L129.80 373.80M124.20 373.80L129.80 368.20" stroke="#22dd22" stroke-width="0.8" fill="none"/>
<path d="M124.20 371.20L129.80 376.80M124.20 376.80L129.80 371.20" stroke="#22dd22" stroke-width="0.8" fill="none"/>
<path d="M124.20 383.60L129.80 389.20M124.20 389.20L129.80 383.60" stroke="#22dd22" stroke-width="0.8" fill="none"/>
<path d="M159.70 281.20L165.30 286.80M159.70 286.80L165.30 281.20" stroke="#3434e0" stroke-width="0.8" fill="none"/><path d="M159.70 284.00H165.30M162.50 281.20V286.80" stroke="#3434e0" stroke-width="0.8" stroke-opacity="0.35" fill="none"/>
<path d="M159.70 285.10L165.30 290.70M159.70 290.70L165.30 285.10" stroke="#3434e0" stroke-width="0.8" fill="none"/><path d="M159.70 287.90H165.30M162.50 285.10V290.70" stroke="#3434e0" stroke-width="0.8" stroke-opacity="0.35" fill="none"/>
<path d="M159.70 299.60L165.30 305.20M159.70 305.20L165.30 299.60" stroke="#3434e0" stroke-width="0.8" fill="none"/><path d="M159.70 302.40H165.30M162.50 299.60V305.20" stroke="#3434e0" stroke-width="0.8" stroke-opacity="0.35" fill="none"/>
<path d="M159.70 302.20L165.30 307.80M159.70 307.80L165.30 302.20" stroke="#3434e0" stroke-width="0.8" fill="none"/><path d="M159.70 305.00H165.30M162.50 302.20V307.80" stroke="#3434e0" stroke-width="0.8" stroke-opacity="0.35" fill="none"/>
<path d="M159.70 304.90L165.30 310.50M159.70 310.50L165.30 304.90" stroke="#3434e0" stroke-width="0.8" fill="none"/><path d="M159.70 307.70H165.30M162.50 304.90V310.50" stroke="#3434e0" stroke-width="0.8" stroke-opacity="0.35" fill="none"/>
<path d="M159.70 309.50L165.30 315.10M159.70 315.10L165.30 309.50" stroke="#3434e0" stroke-width="0.8" fill="none"/><path d="M159.70 312.30H165.30M162.50 309.50V315.10" stroke="#3434e0" stroke-width="0.8" stroke-opacity="0.35" fill="none"/>
<path d="M159.70 318.20L165.30 323.80M159.70 323.80L165.30 318.20" stroke="#3434e0" stroke-width="0.8" fill="none"/><path d="M159.70 321.00H165.30M162.50 318.20V323.80" stroke="#3434e0" stroke-width="0.8" stroke-opacity="0.35" fill="none"/>
<path d="M159.70 319.74L165.30 325.34M159.70 325.34L165.30 319.74" stroke="#3434e0" stroke-width="0.8" fill="none"/><path d="M159.70 322.54H165.30M162.50 319.74V325.34" stroke="#3434e0" stroke-width="0.8" stroke-opacity="0.35" fill="none"/>
<path d="M159.70 321.28L165.30 326.88M159.70 326.88L165.30 321.28" stroke="#3434e0" stroke-width="0.8" fill="none"/><path d="M159.70 324.08H165.30M162.50 321.28V326.88" stroke="#3434e0" stroke-width="0.8" stroke-opacity="0.35" fill="none"/>
<path d="M159.70 322.82L165.30 328.42M159.70 328.42L165.30 322.82" stroke="#3434e0" stroke-width="0.8" fill="none"/><path d="M159.70 325.62H165.30M162.50 322.82V328.42" stroke="#3434e0" stroke-width="0.8" stroke-opacity="0.35" fill="none"/>
<path d="M159.70 324.35L165.30 329.95M159.70 329.95L165.30 324.35" stroke="#3434e0" stroke-width="0.8" fill="none"/><path d="M159.70 327.15H165.30M162.50 324.35V329.95" stroke="#3434e0" stroke-width="0.8" stroke-opacity="0.35" fill="none"/>
<path d="M159.70 325.89L165.30 331.49M159.70 331.49L165.30 325.89" stroke="#3434e0" stroke-width="0.8" fill="none"/><path d="M159.70 328.69H165.30M162.50 325.89V331.49" stroke="#3434e0" stroke-width="0.8" stroke-opacity="0.35" fill="none"/>
<path d="M159.70 327.43L165.30 333.03M159.70 333.03L165.30 327.43" stroke="#3434e0" stroke-width="0.8" fill="none"/><path d="M159.70 330.23H165.30M162.50 327.43V333.03" stroke="#3434e0" stroke-width="0.8" stroke-opacity="0.35" fill="none"/>
<path d="M159.70 328.97L165.30 334.57M159.70 334.57L165.30 328.97" stroke="#3434e0" stroke-width="0.8" fill="none"/><path d="M159.70 331.77H165.30M162.50 328.97V334.57" stroke="#3434e0" stroke-width="0.8" stroke-opacity="0.35" fill="none"/>
<path d="M159.70 330.51L165.30 336.11M159.70 336.11L165.30 330.51" stroke="#3434e0" stroke-width="0.8" fill="none"/><path d="M159.70 333.31H165.30M162.50 330.51V336.11" stroke="#3434e0" stroke-width="0.8" stroke-opacity="0.35" fill="none"/>
<path d="M159.70 332.05L165.30 337.65M159.70 337.65L165.30 332.05" stroke="#3434e0" stroke-width="0.8" fill="none"/><path d="M159.70 334.85H165.30M162.50 332.05V337.65" stroke="#3434e0" stroke-width="0.8" stroke-opacity="0.35" fill="none"/>
<path d="M159.70 333.58L165.30 339.18M159.70 339.18L165.30 333.58" stroke="#3434e0" stroke-width="0.8" fill="none"/><path d="M159.70 336.38H165.30M162.50 333.58V339.18" stroke="#3434e0" stroke-width="0.8" stroke-opacity="0.35" fill="none"/>
<path d="M159.70 335.12L165.30 340.72M159.70 340.72L165.30 335.12" stroke="#3434e0" stroke-width="0.8" fill="none"/><path d="M159.70 337.92H165.30M162.50 335.12V340.72" stroke="#3434e0" stroke-width="0.8" stroke-opacity="0.35" fill="none"/>
<path d="M159.70 336.66L165.30 342.26M159.70 342.26L165.30 336.66" stroke="#3434e0" stroke-width="0.8" fill="none"/><path d="M159.70 339.46H165.30M162.50 336.66V342.26" stroke="#3434e0" stroke-width="0.8" stroke-opacity="0.35" fill="none"/>
<path d="M159.70 338.20L165.30 343.80M159.70 343.80L165.30 338.20" stroke="#3434e0" stroke-width="0.8" fill="none"/><path d="M159.70 341.00H165.30M162.50 338.20V343.80" stroke="#3434e0" stroke-width="0.8" stroke-opacity="0.35" fill="none"/>
<path d="M159.70 346.50L165.30 352.10M159.70 352.10L165.30 346.50" stroke="#3434e0" stroke-width="0.8" fill="none"/><path d="M159.70 349.30H165.30M162.50 346.50V352.10" stroke="#3434e0" stroke-width="0.8" stroke-opacity="0.35" fill="none"/>
<path d="M159.70 351.10L165.30 356.70M159.70 356.70L165.30 351.10" stroke="#3434e0" stroke-width="0.8" fill="none"/><path d="M159.70 353.90H165.30M162.50 351.10V356.70" stroke="#3434e0" stroke-width="0.8" stroke-opacity="0.35" fill="none"/>
<path d="M159.70 356.40L165.30 362.00M159.70 362.00L165.30 356.40" stroke="#3434e0" stroke-width="0.8" fill="none"/><path d="M159.70 359.20H165.30M162.50 356.40V362.00" stroke="#3434e0" stroke-width="0.8" stroke-opacity="0.35" fill="none"/>
<path d="M159.70 360.30L165.30 365.90M159.70 365.90L165.30 360.30" stroke="#3434e0" stroke-width="0.8" fill="none"/><path d="M159.70 363.10H165.30M162.50 360.30V365.90" stroke="#3434e0" stroke-width="0.8" stroke-opacity="0.35" fill="none"/>
<path d="M159.70 364.30L165.30 369.90M159.70 369.90L165.30 364.30" stroke="#3434e0" stroke-width="0.8" fill="none"/><path d="M159.70 367.10H165.30M162.50 364.30V369.90" stroke="#3434e0" stroke-width="0.8" stroke-opacity="0.35" fill="none"/>
<path d="M159.70 368.20L165.30 373.80M159.70 373.80L165.30 368.20" stroke="#3434e0" stroke-width="0.8" fill="none"/><path d="M159.70 371.00H165.30M162.50 368.20V373.80" stroke="#3434e0" stroke-width="0.8" stroke-opacity="0.35" fill="none"/>
<path d="M159.70 372.20L165.30 377.80M159.70 377.80L165.30 372.20" stroke="#3434e0" stroke-width="0.8" fill="none"/><path d="M159.70 375.00H165.30M162.50 372.20V377.80" stroke="#3434e0" stroke-width="0.8" stroke-opacity="0.35" fill="none"/>
<path d="M159.70 374.80L165.30 380.40M159.70 380.40L165.30 374.80" stroke="#3434e0" stroke-width="0.8" fill="none"/><path d="M159.70 377.60H165.30M162.50 374.80V380.40" stroke="#3434e0" stroke-width="0.8" stroke-opacity="0.35" fill="none"/>
<path d="M159.70 378.80L165.30 384.40M159.70 384.40L165.30 378.80" stroke="#3434e0" stroke-width="0.8" fill="none"/><path d="M159.70 381.60H165.30M162.50 378.80V384.40" stroke="#3434e0" stroke-width="0.8" stroke-opacity="0.35" fill="none"/>
<path d="M159.70 384.10L165.30 389.70M159.70 389.70L165.30 384.10" stroke="#3434e0" stroke-width="0.8" fill="none"/><path d="M159.70 386.90H165.30M162.50 384.10V389.70" stroke="#3434e0" stroke-width="0.8" stroke-opacity="0.35" fill="none"/>
<path d="M159.70 388.00L165.30 393.60M159.70 393.60L165.30 388.00" stroke="#3434e0" stroke-width="0.8" fill="none"/><path d="M159.70 390.80H165.30M162.50 388.00V393.60" stroke="#3434e0" stroke-width="0.8" stroke-opacity="0.35" fill="none"/>
<path d="M159.70 392.00L165.30 397.60M159.70 397.60L165.30 392.00" stroke="#3434e0" stroke-width="0.8" fill="none"/><path d="M159.70 394.80H165.30M162.50 392.00V397.60" stroke="#3434e0" stroke-width="0.8" stroke-opacity="0.35" fill="none"/>
<rect x="195.20" y="290.90" width="5.60" height="5.60" stroke="#e27af2" stroke-width="0.8" fill="none"/>
<rect x="195.20" y="299.50" width="5.60" height="5.60" stroke="#e27af2" stroke-width="0.8" fill="none"/>
<rect x="195.20" y="301.80" width="5.60" height="5.60" stroke="#e27af2" stroke-width="0.8" fill="none"/>
<rect x="195.20" y="305.30" width="5.60" height="5.60" stroke="#e27af2" stroke-width="0.8" fill="none"/>
<rect x="195.20" y="307.60" width="5.60" height="5.60" stroke="#e27af2" stroke-width="0.8" fill="none"/>
<rect x="195.20" y="319.10" width="5.60" height="5.60" stroke="#e27af2" stroke-width="0.8" fill="none"/>
<rect x="195.20" y="322.60" width="5.60" height="5.60" stroke="#e27af2" stroke-width="0.8" fill="none"/>
<rect x="195.20" y="326.60" width="5.60" height="5.60" stroke="#e27af2" stroke-width="0.8" fill="none"/>
<rect x="195.20" y="334.70" width="5.60" height="5.60" stroke="#e27af2" stroke-width="0.8" fill="none"/>
<rect x="195.20" y="336.40" width="5.60" height="5.60" stroke="#e27af2" stroke-width="0.8" fill="none"/>
<rect x="195.20" y="339.90" width="5.60" height="5.60" stroke="#e27af2" stroke-width="0.8" fill="none"/>
<rect x="195.20" y="343.30" width="5.60" height="5.60" stroke="#e27af2" stroke-width="0.8" fill="none"/>
<rect x="195.20" y="346.80" width="5.60" height="5.60" stroke="#e27af2" stroke-width="0.8" fill="none"/>
<rect x="195.20" y="351.40" width="5.60" height="5.60" stroke="#e27af2" stroke-width="0.8" fill="none"/>
<rect x="195.20" y="358.90" width="5.60" height="5.60" stroke="#e27af2" stroke-width="0.8" fill="none"/>
<rect x="195.20" y="362.90" width="5.60" height="5.60" stroke="#e27af2" stroke-width="0.8" fill="none"/>
<rect x="195.20" y="367.60" width="5.60" height="5.60" stroke="#e27af2" stroke-width="0.8" fill="none"/>
<rect x="195.20" y="370.40" width="5.60" height="5.60" stroke="#e27af2" stroke-width="0.8" fill="none"/>
<rect x="195.20" y="376.80" width="5.60" height="5.60" stroke="#e27af2" stroke-width="0.8" fill="none"/>
<rect x="195.20" y="380.20" width="5.60" height="5.60" stroke="#e27af2" stroke-width="0.8" fill="none"/>
<rect x="195.20" y="382.50" width="5.60" height="5.60" stroke="#e27af2" stroke-width="0.8" fill="none"/>
<circle cx="233.70" cy="273.90" r="2.6" stroke="#30d4dc" stroke-width="0.8" fill="none"/>
<circle cx="233.70" cy="277.90" r="2.6" stroke="#30d4dc" stroke-width="0.8" fill="none"/>
<circle cx="233.70" cy="283.80" r="2.6" stroke="#30d4dc" stroke-width="0.8" fill="none"/>
<circle cx="233.70" cy="307.10" r="2.6" stroke="#30d4dc" stroke-width="0.8" fill="none"/>
<circle cx="233.70" cy="309.10" r="2.6" stroke="#30d4dc" stroke-width="0.8" fill="none"/>
<circle cx="233.70" cy="311.00" r="2.6" stroke="#30d4dc" stroke-width="0.8" fill="none"/>
<circle cx="233.70" cy="329.90" r="2.6" stroke="#30d4dc" stroke-width="0.8" fill="none"/>
<circle cx="233.70" cy="338.80" r="2.6" stroke="#30d4dc" stroke-width="0.8" fill="none"/>
<circle cx="233.70" cy="341.20" r="2.6" stroke="#30d4dc" stroke-width="0.8" fill="none"/>
<circle cx="233.70" cy="347.70" r="2.6" stroke="#30d4dc" stroke-width="0.8" fill="none"/>
<circle cx="233.70" cy="350.10" r="2.6" stroke="#30d4dc" stroke-width="0.8" fill="none"/>
<path d="M269.20 316.60L272.10 321.68H266.30Z" stroke="#f06030" stroke-width="0.8" fill="none"/>
<path d="M269.20 321.50L272.10 326.57H266.30Z" stroke="#f06030" stroke-width="0.8" fill="none"/>
<path d="M269.20 324.00L272.10 329.07H266.30Z" stroke="#f06030" stroke-width="0.8" fill="none"/>
<path d="M269.20 329.90L272.10 334.98H266.30Z" stroke="#f06030" stroke-width="0.8" fill="none"/>
<rect x="55.50" y="252.70" width="249.00" height="164.10" stroke="#777777" stroke-width="1.1" fill="none"/>
<text x="50.50" y="265.86" font-size="8.6" text-anchor="end">0.4</text>
<text x="50.50" y="286.37" font-size="8.6" text-anchor="end">0.2</text>
<text x="50.50" y="306.88" font-size="8.6" text-anchor="end">0</text>
<text x="50.50" y="327.39" font-size="8.6" text-anchor="end">-0.2</text>
<text x="50.50" y="347.91" font-size="8.6" text-anchor="end">-0.4</text>
<text x="50.50" y="368.42" font-size="8.6" text-anchor="end">-0.6</text>
<text x="50.50" y="388.93" font-size="8.6" text-anchor="end">-0.8</text>
<text x="50.50" y="409.44" font-size="8.6" text-anchor="end">-1</text>
<text x="91.07" y="428.70" font-size="8.6" text-anchor="middle">0</text>
<text x="126.64" y="428.70" font-size="8.6" text-anchor="middle">1</text>
<text x="162.21" y="428.70" font-size="8.6" text-anchor="middle">2</text>
<text x="197.79" y="428.70" font-size="8.6" text-anchor="middle">3</text>
<text x="233.36" y="428.70" font-size="8.6" text-anchor="middle">4</text>
<text x="268.93" y="428.70" font-size="8.6" text-anchor="middle">5</text>
<text x="180.00" y="441.60" font-size="8.6" text-anchor="middle">Number of Si Atoms at 1NN to <tspan font-style="italic">P-V</tspan></text>
<text transform="translate(23.90,334.75) rotate(-90)" x="0" y="0" font-size="8.6" text-anchor="middle">Binding Energy (eV)</text>
<text x="142.30" y="241.00" font-size="8.7">Si<tspan font-size="6.0" dy="1.8">1-x</tspan><tspan dy="-1.8">Ge</tspan><tspan font-size="6.0" dy="1.8">x</tspan><tspan dy="-1.8"> (x = 0.375)</tspan></text>
<text x="0.00" y="244.20" font-size="14" letter-spacing="0.9" style="stroke-width:0">(c)</text>
<path d="M410.80 274.58H659.40M410.80 296.46H659.40M410.80 318.34H659.40M410.80 340.22H659.40M410.80 362.10H659.40M410.80 383.98H659.40M410.80 405.86H659.40M441.88 252.70V416.80M472.95 252.70V416.80M504.02 252.70V416.80M535.10 252.70V416.80M566.17 252.70V416.80M597.25 252.70V416.80M628.33 252.70V416.80" stroke="#dcdcdc" stroke-width="0.8" stroke-dasharray="5,1" fill="none"/>
<path d="M410.80 252.70h3.5M659.40 252.70h-3.5M410.80 274.58h3.5M659.40 274.58h-3.5M410.80 296.46h3.5M659.40 296.46h-3.5M410.80 318.34h3.5M659.40 318.34h-3.5M410.80 340.22h3.5M659.40 340.22h-3.5M410.80 362.10h3.5M659.40 362.10h-3.5M410.80 383.98h3.5M659.40 383.98h-3.5M410.80 405.86h3.5M659.40 405.86h-3.5M441.88 416.80v-3.0M441.88 252.70v3.0M472.95 416.80v-3.0M472.95 252.70v3.0M504.02 416.80v-3.0M504.02 252.70v3.0M535.10 416.80v-3.0M535.10 252.70v3.0M566.17 416.80v-3.0M566.17 252.70v3.0M597.25 416.80v-3.0M597.25 252.70v3.0M628.33 416.80v-3.0M628.33 252.70v3.0" stroke="#555" stroke-width="0.9" fill="none"/>
<path d="M439.30 357.30H444.70" stroke="#e43c58" stroke-width="0.8" fill="none"/><path d="M442.00 354.60V360.00" stroke="#e43c58" stroke-width="0.8" stroke-opacity="0.45" fill="none"/>
<path d="M439.30 361.00H444.70" stroke="#e43c58" stroke-width="0.8" fill="none"/><path d="M442.00 358.30V363.70" stroke="#e43c58" stroke-width="0.8" stroke-opacity="0.45" fill="none"/>
<path d="M470.20 326.80L475.80 332.40M470.20 332.40L475.80 326.80" stroke="#22dd22" stroke-width="0.8" fill="none"/>
<path d="M470.20 329.50L475.80 335.10M470.20 335.10L475.80 329.50" stroke="#22dd22" stroke-width="0.8" fill="none"/>
<path d="M470.20 331.50L475.80 337.10M470.20 337.10L475.80 331.50" stroke="#22dd22" stroke-width="0.8" fill="none"/>
<path d="M470.20 356.10L475.80 361.70M470.20 361.70L475.80 356.10" stroke="#22dd22" stroke-width="0.8" fill="none"/>
<path d="M470.20 359.50L475.80 365.10M470.20 365.10L475.80 359.50" stroke="#22dd22" stroke-width="0.8" fill="none"/>
<path d="M470.20 362.90L475.80 368.50M470.20 368.50L475.80 362.90" stroke="#22dd22" stroke-width="0.8" fill="none"/>
<path d="M501.30 297.80L506.90 303.40M501.30 303.40L506.90 297.80" stroke="#3434e0" stroke-width="0.8" fill="none"/><path d="M501.30 300.60H506.90M504.10 297.80V303.40" stroke="#3434e0" stroke-width="0.8" stroke-opacity="0.35" fill="none"/>
<path d="M501.30 314.20L506.90 319.80M501.30 319.80L506.90 314.20" stroke="#3434e0" stroke-width="0.8" fill="none"/><path d="M501.30 317.00H506.90M504.10 314.20V319.80" stroke="#3434e0" stroke-width="0.8" stroke-opacity="0.35" fill="none"/>
<path d="M501.30 331.50L506.90 337.10M501.30 337.10L506.90 331.50" stroke="#3434e0" stroke-width="0.8" fill="none"/><path d="M501.30 334.30H506.90M504.10 331.50V337.10" stroke="#3434e0" stroke-width="0.8" stroke-opacity="0.35" fill="none"/>
<path d="M501.30 340.40L506.90 346.00M501.30 346.00L506.90 340.40" stroke="#3434e0" stroke-width="0.8" fill="none"/><path d="M501.30 343.20H506.90M504.10 340.40V346.00" stroke="#3434e0" stroke-width="0.8" stroke-opacity="0.35" fill="none"/>
<path d="M501.30 342.50L506.90 348.10M501.30 348.10L506.90 342.50" stroke="#3434e0" stroke-width="0.8" fill="none"/><path d="M501.30 345.30H506.90M504.10 342.50V348.10" stroke="#3434e0" stroke-width="0.8" stroke-opacity="0.35" fill="none"/>
<path d="M501.30 344.50L506.90 350.10M501.30 350.10L506.90 344.50" stroke="#3434e0" stroke-width="0.8" fill="none"/><path d="M501.30 347.30H506.90M504.10 344.50V350.10" stroke="#3434e0" stroke-width="0.8" stroke-opacity="0.35" fill="none"/>
<path d="M501.30 346.50L506.90 352.10M501.30 352.10L506.90 346.50" stroke="#3434e0" stroke-width="0.8" fill="none"/><path d="M501.30 349.30H506.90M504.10 346.50V352.10" stroke="#3434e0" stroke-width="0.8" stroke-opacity="0.35" fill="none"/>
<path d="M501.30 354.30L506.90 359.90M501.30 359.90L506.90 354.30" stroke="#3434e0" stroke-width="0.8" fill="none"/><path d="M501.30 357.10H506.90M504.10 354.30V359.90" stroke="#3434e0" stroke-width="0.8" stroke-opacity="0.35" fill="none"/>
<path d="M501.30 363.60L506.90 369.20M501.30 369.20L506.90 363.60" stroke="#3434e0" stroke-width="0.8" fill="none"/><path d="M501.30 366.40H506.90M504.10 363.60V369.20" stroke="#3434e0" stroke-width="0.8" stroke-opacity="0.35" fill="none"/>
<path d="M501.30 366.30L506.90 371.90M501.30 371.90L506.90 366.30" stroke="#3434e0" stroke-width="0.8" fill="none"/><path d="M501.30 369.10H506.90M504.10 366.30V371.90" stroke="#3434e0" stroke-width="0.8" stroke-opacity="0.35" fill="none"/>
<path d="M501.30 380.00L506.90 385.60M501.30 385.60L506.90 380.00" stroke="#3434e0" stroke-width="0.8" fill="none"/><path d="M501.30 382.80H506.90M504.10 380.00V385.60" stroke="#3434e0" stroke-width="0.8" stroke-opacity="0.35" fill="none"/>
<rect x="532.40" y="273.10" width="5.60" height="5.60" stroke="#e27af2" stroke-width="0.8" fill="none"/>
<rect x="532.40" y="292.30" width="5.60" height="5.60" stroke="#e27af2" stroke-width="0.8" fill="none"/>
<rect x="532.40" y="298.90" width="5.60" height="5.60" stroke="#e27af2" stroke-width="0.8" fill="none"/>
<rect x="532.40" y="301.50" width="5.60" height="5.60" stroke="#e27af2" stroke-width="0.8" fill="none"/>
<rect x="532.40" y="304.80" width="5.60" height="5.60" stroke="#e27af2" stroke-width="0.8" fill="none"/>
<rect x="532.40" y="307.40" width="5.60" height="5.60" stroke="#e27af2" stroke-width="0.8" fill="none"/>
<rect x="532.40" y="310.10" width="5.60" height="5.60" stroke="#e27af2" stroke-width="0.8" fill="none"/>
<rect x="532.40" y="314.70" width="5.60" height="5.60" stroke="#e27af2" stroke-width="0.8" fill="none"/>
<rect x="532.40" y="317.30" width="5.60" height="5.60" stroke="#e27af2" stroke-width="0.8" fill="none"/>
<rect x="532.40" y="320.00" width="5.60" height="5.60" stroke="#e27af2" stroke-width="0.8" fill="none"/>
<rect x="532.40" y="325.20" width="5.60" height="5.60" stroke="#e27af2" stroke-width="0.8" fill="none"/>
<rect x="532.40" y="327.20" width="5.60" height="5.60" stroke="#e27af2" stroke-width="0.8" fill="none"/>
<rect x="532.40" y="339.10" width="5.60" height="5.60" stroke="#e27af2" stroke-width="0.8" fill="none"/>
<rect x="532.40" y="341.70" width="5.60" height="5.60" stroke="#e27af2" stroke-width="0.8" fill="none"/>
<rect x="532.40" y="345.00" width="5.60" height="5.60" stroke="#e27af2" stroke-width="0.8" fill="none"/>
<rect x="532.40" y="347.70" width="5.60" height="5.60" stroke="#e27af2" stroke-width="0.8" fill="none"/>
<rect x="532.40" y="350.30" width="5.60" height="5.60" stroke="#e27af2" stroke-width="0.8" fill="none"/>
<rect x="532.40" y="354.30" width="5.60" height="5.60" stroke="#e27af2" stroke-width="0.8" fill="none"/>
<rect x="532.40" y="357.60" width="5.60" height="5.60" stroke="#e27af2" stroke-width="0.8" fill="none"/>
<rect x="532.40" y="366.10" width="5.60" height="5.60" stroke="#e27af2" stroke-width="0.8" fill="none"/>
<rect x="532.40" y="377.40" width="5.60" height="5.60" stroke="#e27af2" stroke-width="0.8" fill="none"/>
<circle cx="566.30" cy="289.70" r="2.6" stroke="#30d4dc" stroke-width="0.8" fill="none"/>
<circle cx="566.30" cy="300.60" r="2.6" stroke="#30d4dc" stroke-width="0.8" fill="none"/>
<circle cx="566.30" cy="302.60" r="2.6" stroke="#30d4dc" stroke-width="0.8" fill="none"/>
<circle cx="566.30" cy="305.10" r="2.6" stroke="#30d4dc" stroke-width="0.8" fill="none"/>
<circle cx="566.30" cy="307.70" r="2.6" stroke="#30d4dc" stroke-width="0.8" fill="none"/>
<circle cx="566.30" cy="310.90" r="2.6" stroke="#30d4dc" stroke-width="0.8" fill="none"/>
<circle cx="566.30" cy="313.50" r="2.6" stroke="#30d4dc" stroke-width="0.8" fill="none"/>
<circle cx="566.30" cy="316.70" r="2.6" stroke="#30d4dc" stroke-width="0.8" fill="none"/>
<circle cx="566.30" cy="318.70" r="2.6" stroke="#30d4dc" stroke-width="0.8" fill="none"/>
<circle cx="566.30" cy="320.60" r="2.6" stroke="#30d4dc" stroke-width="0.8" fill="none"/>
<circle cx="566.30" cy="335.70" r="2.6" stroke="#30d4dc" stroke-width="0.8" fill="none"/>
<circle cx="566.30" cy="353.70" r="2.6" stroke="#30d4dc" stroke-width="0.8" fill="none"/>
<circle cx="566.30" cy="365.70" r="2.6" stroke="#30d4dc" stroke-width="0.8" fill="none"/>
<path d="M597.30 291.30L600.20 296.38H594.40Z" stroke="#f06030" stroke-width="0.8" fill="none"/>
<path d="M597.30 297.10L600.20 302.18H594.40Z" stroke="#f06030" stroke-width="0.8" fill="none"/>
<path d="M597.30 313.20L600.20 318.28H594.40Z" stroke="#f06030" stroke-width="0.8" fill="none"/>
<path d="M597.30 325.80L600.20 330.88H594.40Z" stroke="#f06030" stroke-width="0.8" fill="none"/>
<path d="M628.50 295.30L631.00 297.80L628.50 300.30L626.00 297.80Z" stroke="#222222" stroke-width="1" fill="none"/>
<path d="M628.50 315.80L631.00 318.30L628.50 320.80L626.00 318.30Z" stroke="#222222" stroke-width="1" fill="none"/>
<rect x="410.80" y="252.70" width="248.60" height="164.10" stroke="#777777" stroke-width="1.1" fill="none"/>
<text x="405.80" y="255.60" font-size="8.6" text-anchor="end">0</text>
<text x="405.80" y="277.48" font-size="8.6" text-anchor="end">-0.2</text>
<text x="405.80" y="299.36" font-size="8.6" text-anchor="end">-0.4</text>
<text x="405.80" y="321.24" font-size="8.6" text-anchor="end">-0.6</text>
<text x="405.80" y="343.12" font-size="8.6" text-anchor="end">-0.8</text>
<text x="405.80" y="365.00" font-size="8.6" text-anchor="end">-1</text>
<text x="405.80" y="386.88" font-size="8.6" text-anchor="end">-1.2</text>
<text x="405.80" y="408.76" font-size="8.6" text-anchor="end">-1.4</text>
<text x="441.88" y="428.70" font-size="8.6" text-anchor="middle">0</text>
<text x="472.95" y="428.70" font-size="8.6" text-anchor="middle">1</text>
<text x="504.02" y="428.70" font-size="8.6" text-anchor="middle">2</text>
<text x="535.10" y="428.70" font-size="8.6" text-anchor="middle">3</text>
<text x="566.17" y="428.70" font-size="8.6" text-anchor="middle">4</text>
<text x="597.25" y="428.70" font-size="8.6" text-anchor="middle">5</text>
<text x="628.33" y="428.70" font-size="8.6" text-anchor="middle">6</text>
<text x="535.10" y="441.60" font-size="8.6" text-anchor="middle">Number of Si Atoms at 1NN to <tspan font-style="italic">P-V</tspan></text>
<text transform="translate(379.20,334.75) rotate(-90)" x="0" y="0" font-size="8.6" text-anchor="middle">Binding Energy (eV)</text>
<text x="499.10" y="241.00" font-size="8.7">Si<tspan font-size="6.0" dy="1.8">1-x</tspan><tspan dy="-1.8">Ge</tspan><tspan font-size="6.0" dy="1.8">x</tspan><tspan dy="-1.8"> (x = 0.5)</tspan></text>
<text x="353.60" y="244.20" font-size="14" letter-spacing="0.9" style="stroke-width:0">(d)</text>
<path d="M55.50 504.37H304.50M55.50 526.23H304.50M55.50 548.10H304.50M55.50 569.97H304.50M55.50 591.83H304.50M55.50 613.70H304.50M55.50 635.57H304.50M91.07 482.50V646.50M126.64 482.50V646.50M162.21 482.50V646.50M197.79 482.50V646.50M233.36 482.50V646.50M268.93 482.50V646.50" stroke="#dcdcdc" stroke-width="0.8" stroke-dasharray="5,1" fill="none"/>
<path d="M55.50 482.50h3.5M304.50 482.50h-3.5M55.50 504.37h3.5M304.50 504.37h-3.5M55.50 526.23h3.5M304.50 526.23h-3.5M55.50 548.10h3.5M304.50 548.10h-3.5M55.50 569.97h3.5M304.50 569.97h-3.5M55.50 591.83h3.5M304.50 591.83h-3.5M55.50 613.70h3.5M304.50 613.70h-3.5M55.50 635.57h3.5M304.50 635.57h-3.5M91.07 646.50v-3.0M91.07 482.50v3.0M126.64 646.50v-3.0M126.64 482.50v3.0M162.21 646.50v-3.0M162.21 482.50v3.0M197.79 646.50v-3.0M197.79 482.50v3.0M233.36 646.50v-3.0M233.36 482.50v3.0M268.93 646.50v-3.0M268.93 482.50v3.0" stroke="#555" stroke-width="0.9" fill="none"/>
<path d="M88.70 551.30L94.30 556.90M88.70 556.90L94.30 551.30" stroke="#22dd22" stroke-width="0.8" fill="none"/>
<path d="M88.70 553.30L94.30 558.90M88.70 558.90L94.30 553.30" stroke="#22dd22" stroke-width="0.8" fill="none"/>
<path d="M88.70 590.20L94.30 595.80M88.70 595.80L94.30 590.20" stroke="#22dd22" stroke-width="0.8" fill="none"/>
<path d="M88.70 601.40L94.30 607.00M88.70 607.00L94.30 601.40" stroke="#22dd22" stroke-width="0.8" fill="none"/>
<path d="M124.00 515.70L129.60 521.30M124.00 521.30L129.60 515.70" stroke="#3434e0" stroke-width="0.8" fill="none"/><path d="M124.00 518.50H129.60M126.80 515.70V521.30" stroke="#3434e0" stroke-width="0.8" stroke-opacity="0.35" fill="none"/>
<path d="M124.00 537.40L129.60 543.00M124.00 543.00L129.60 537.40" stroke="#3434e0" stroke-width="0.8" fill="none"/><path d="M124.00 540.20H129.60M126.80 537.40V543.00" stroke="#3434e0" stroke-width="0.8" stroke-opacity="0.35" fill="none"/>
<path d="M124.00 540.10L129.60 545.70M124.00 545.70L129.60 540.10" stroke="#3434e0" stroke-width="0.8" fill="none"/><path d="M124.00 542.90H129.60M126.80 540.10V545.70" stroke="#3434e0" stroke-width="0.8" stroke-opacity="0.35" fill="none"/>
<path d="M124.00 542.70L129.60 548.30M124.00 548.30L129.60 542.70" stroke="#3434e0" stroke-width="0.8" fill="none"/><path d="M124.00 545.50H129.60M126.80 542.70V548.30" stroke="#3434e0" stroke-width="0.8" stroke-opacity="0.35" fill="none"/>
<path d="M124.00 549.70L129.60 555.30M124.00 555.30L129.60 549.70" stroke="#3434e0" stroke-width="0.8" fill="none"/><path d="M124.00 552.50H129.60M126.80 549.70V555.30" stroke="#3434e0" stroke-width="0.8" stroke-opacity="0.35" fill="none"/>
<path d="M124.00 565.80L129.60 571.40M124.00 571.40L129.60 565.80" stroke="#3434e0" stroke-width="0.8" fill="none"/><path d="M124.00 568.60H129.60M126.80 565.80V571.40" stroke="#3434e0" stroke-width="0.8" stroke-opacity="0.35" fill="none"/>
<path d="M124.00 568.40L129.60 574.00M124.00 574.00L129.60 568.40" stroke="#3434e0" stroke-width="0.8" fill="none"/><path d="M124.00 571.20H129.60M126.80 568.40V574.00" stroke="#3434e0" stroke-width="0.8" stroke-opacity="0.35" fill="none"/>
<path d="M124.00 571.10L129.60 576.70M124.00 576.70L129.60 571.10" stroke="#3434e0" stroke-width="0.8" fill="none"/><path d="M124.00 573.90H129.60M126.80 571.10V576.70" stroke="#3434e0" stroke-width="0.8" stroke-opacity="0.35" fill="none"/>
<path d="M124.00 577.90L129.60 583.50M124.00 583.50L129.60 577.90" stroke="#3434e0" stroke-width="0.8" fill="none"/><path d="M124.00 580.70H129.60M126.80 577.90V583.50" stroke="#3434e0" stroke-width="0.8" stroke-opacity="0.35" fill="none"/>
<path d="M124.00 588.00L129.60 593.60M124.00 593.60L129.60 588.00" stroke="#3434e0" stroke-width="0.8" fill="none"/><path d="M124.00 590.80H129.60M126.80 588.00V593.60" stroke="#3434e0" stroke-width="0.8" stroke-opacity="0.35" fill="none"/>
<path d="M124.00 588.90L129.60 594.50M124.00 594.50L129.60 588.90" stroke="#3434e0" stroke-width="0.8" fill="none"/><path d="M124.00 591.70H129.60M126.80 588.90V594.50" stroke="#3434e0" stroke-width="0.8" stroke-opacity="0.35" fill="none"/>
<path d="M124.00 598.80L129.60 604.40M124.00 604.40L129.60 598.80" stroke="#3434e0" stroke-width="0.8" fill="none"/><path d="M124.00 601.60H129.60M126.80 598.80V604.40" stroke="#3434e0" stroke-width="0.8" stroke-opacity="0.35" fill="none"/>
<path d="M124.00 602.70L129.60 608.30M124.00 608.30L129.60 602.70" stroke="#3434e0" stroke-width="0.8" fill="none"/><path d="M124.00 605.50H129.60M126.80 602.70V608.30" stroke="#3434e0" stroke-width="0.8" stroke-opacity="0.35" fill="none"/>
<path d="M124.00 606.00L129.60 611.60M124.00 611.60L129.60 606.00" stroke="#3434e0" stroke-width="0.8" fill="none"/><path d="M124.00 608.80H129.60M126.80 606.00V611.60" stroke="#3434e0" stroke-width="0.8" stroke-opacity="0.35" fill="none"/>
<path d="M124.00 608.70L129.60 614.30M124.00 614.30L129.60 608.70" stroke="#3434e0" stroke-width="0.8" fill="none"/><path d="M124.00 611.50H129.60M126.80 608.70V614.30" stroke="#3434e0" stroke-width="0.8" stroke-opacity="0.35" fill="none"/>
<path d="M124.00 610.70L129.60 616.30M124.00 616.30L129.60 610.70" stroke="#3434e0" stroke-width="0.8" fill="none"/><path d="M124.00 613.50H129.60M126.80 610.70V616.30" stroke="#3434e0" stroke-width="0.8" stroke-opacity="0.35" fill="none"/>
<path d="M124.00 612.60L129.60 618.20M124.00 618.20L129.60 612.60" stroke="#3434e0" stroke-width="0.8" fill="none"/><path d="M124.00 615.40H129.60M126.80 612.60V618.20" stroke="#3434e0" stroke-width="0.8" stroke-opacity="0.35" fill="none"/>
<rect x="159.80" y="533.20" width="5.60" height="5.60" stroke="#e27af2" stroke-width="0.8" fill="none"/>
<rect x="159.80" y="535.70" width="5.60" height="5.60" stroke="#e27af2" stroke-width="0.8" fill="none"/>
<rect x="159.80" y="538.20" width="5.60" height="5.60" stroke="#e27af2" stroke-width="0.8" fill="none"/>
<rect x="159.80" y="540.70" width="5.60" height="5.60" stroke="#e27af2" stroke-width="0.8" fill="none"/>
<rect x="159.80" y="543.20" width="5.60" height="5.60" stroke="#e27af2" stroke-width="0.8" fill="none"/>
<rect x="159.80" y="545.70" width="5.60" height="5.60" stroke="#e27af2" stroke-width="0.8" fill="none"/>
<rect x="159.80" y="548.20" width="5.60" height="5.60" stroke="#e27af2" stroke-width="0.8" fill="none"/>
<rect x="159.80" y="550.70" width="5.60" height="5.60" stroke="#e27af2" stroke-width="0.8" fill="none"/>
<rect x="159.80" y="553.20" width="5.60" height="5.60" stroke="#e27af2" stroke-width="0.8" fill="none"/>
<rect x="159.80" y="555.70" width="5.60" height="5.60" stroke="#e27af2" stroke-width="0.8" fill="none"/>
<rect x="159.80" y="558.20" width="5.60" height="5.60" stroke="#e27af2" stroke-width="0.8" fill="none"/>
<rect x="159.80" y="560.70" width="5.60" height="5.60" stroke="#e27af2" stroke-width="0.8" fill="none"/>
<rect x="159.80" y="563.20" width="5.60" height="5.60" stroke="#e27af2" stroke-width="0.8" fill="none"/>
<rect x="159.80" y="565.70" width="5.60" height="5.60" stroke="#e27af2" stroke-width="0.8" fill="none"/>
<rect x="159.80" y="568.20" width="5.60" height="5.60" stroke="#e27af2" stroke-width="0.8" fill="none"/>
<rect x="159.80" y="570.70" width="5.60" height="5.60" stroke="#e27af2" stroke-width="0.8" fill="none"/>
<rect x="159.80" y="573.20" width="5.60" height="5.60" stroke="#e27af2" stroke-width="0.8" fill="none"/>
<rect x="159.80" y="575.70" width="5.60" height="5.60" stroke="#e27af2" stroke-width="0.8" fill="none"/>
<rect x="159.80" y="578.20" width="5.60" height="5.60" stroke="#e27af2" stroke-width="0.8" fill="none"/>
<rect x="159.80" y="580.70" width="5.60" height="5.60" stroke="#e27af2" stroke-width="0.8" fill="none"/>
<rect x="159.80" y="583.20" width="5.60" height="5.60" stroke="#e27af2" stroke-width="0.8" fill="none"/>
<rect x="159.80" y="585.70" width="5.60" height="5.60" stroke="#e27af2" stroke-width="0.8" fill="none"/>
<rect x="159.80" y="588.20" width="5.60" height="5.60" stroke="#e27af2" stroke-width="0.8" fill="none"/>
<rect x="159.80" y="590.70" width="5.60" height="5.60" stroke="#e27af2" stroke-width="0.8" fill="none"/>
<rect x="159.80" y="593.20" width="5.60" height="5.60" stroke="#e27af2" stroke-width="0.8" fill="none"/>
<circle cx="198.20" cy="510.50" r="2.6" stroke="#30d4dc" stroke-width="0.8" fill="none"/>
<circle cx="198.20" cy="517.60" r="2.6" stroke="#30d4dc" stroke-width="0.8" fill="none"/>
<circle cx="198.20" cy="519.80" r="2.6" stroke="#30d4dc" stroke-width="0.8" fill="none"/>
<circle cx="198.20" cy="528.60" r="2.6" stroke="#30d4dc" stroke-width="0.8" fill="none"/>
<circle cx="198.20" cy="531.40" r="2.6" stroke="#30d4dc" stroke-width="0.8" fill="none"/>
<circle cx="198.20" cy="535.20" r="2.6" stroke="#30d4dc" stroke-width="0.8" fill="none"/>
<circle cx="198.20" cy="538.00" r="2.6" stroke="#30d4dc" stroke-width="0.8" fill="none"/>
<circle cx="198.20" cy="541.80" r="2.6" stroke="#30d4dc" stroke-width="0.8" fill="none"/>
<circle cx="198.20" cy="544.60" r="2.6" stroke="#30d4dc" stroke-width="0.8" fill="none"/>
<circle cx="198.20" cy="549.00" r="2.6" stroke="#30d4dc" stroke-width="0.8" fill="none"/>
<circle cx="198.20" cy="551.20" r="2.6" stroke="#30d4dc" stroke-width="0.8" fill="none"/>
<circle cx="198.20" cy="553.40" r="2.6" stroke="#30d4dc" stroke-width="0.8" fill="none"/>
<circle cx="198.20" cy="555.50" r="2.6" stroke="#30d4dc" stroke-width="0.8" fill="none"/>
<circle cx="198.20" cy="557.70" r="2.6" stroke="#30d4dc" stroke-width="0.8" fill="none"/>
<circle cx="198.20" cy="559.90" r="2.6" stroke="#30d4dc" stroke-width="0.8" fill="none"/>
<circle cx="198.20" cy="566.50" r="2.6" stroke="#30d4dc" stroke-width="0.8" fill="none"/>
<circle cx="198.20" cy="570.40" r="2.6" stroke="#30d4dc" stroke-width="0.8" fill="none"/>
<circle cx="198.20" cy="572.60" r="2.6" stroke="#30d4dc" stroke-width="0.8" fill="none"/>
<circle cx="198.20" cy="579.70" r="2.6" stroke="#30d4dc" stroke-width="0.8" fill="none"/>
<circle cx="198.20" cy="581.90" r="2.6" stroke="#30d4dc" stroke-width="0.8" fill="none"/>
<circle cx="198.20" cy="584.10" r="2.6" stroke="#30d4dc" stroke-width="0.8" fill="none"/>
<circle cx="198.20" cy="586.90" r="2.6" stroke="#30d4dc" stroke-width="0.8" fill="none"/>
<circle cx="198.20" cy="589.60" r="2.6" stroke="#30d4dc" stroke-width="0.8" fill="none"/>
<circle cx="198.20" cy="596.20" r="2.6" stroke="#30d4dc" stroke-width="0.8" fill="none"/>
<path d="M233.70 508.00L236.60 513.07H230.80Z" stroke="#f06030" stroke-width="0.8" fill="none"/>
<path d="M233.70 514.00L236.60 519.07H230.80Z" stroke="#f06030" stroke-width="0.8" fill="none"/>
<path d="M233.70 520.40L236.60 525.47H230.80Z" stroke="#f06030" stroke-width="0.8" fill="none"/>
<path d="M233.70 521.90L236.60 526.97H230.80Z" stroke="#f06030" stroke-width="0.8" fill="none"/>
<path d="M233.70 523.40L236.60 528.47H230.80Z" stroke="#f06030" stroke-width="0.8" fill="none"/>
<path d="M233.70 525.40L236.60 530.47H230.80Z" stroke="#f06030" stroke-width="0.8" fill="none"/>
<path d="M233.70 527.80L236.60 532.88H230.80Z" stroke="#f06030" stroke-width="0.8" fill="none"/>
<path d="M233.70 530.80L236.60 535.88H230.80Z" stroke="#f06030" stroke-width="0.8" fill="none"/>
<path d="M233.70 533.80L236.60 538.88H230.80Z" stroke="#f06030" stroke-width="0.8" fill="none"/>
<path d="M233.70 545.70L236.60 550.77H230.80Z" stroke="#f06030" stroke-width="0.8" fill="none"/>
<path d="M233.70 550.60L236.60 555.67H230.80Z" stroke="#f06030" stroke-width="0.8" fill="none"/>
<path d="M233.70 556.10L236.60 561.17H230.80Z" stroke="#f06030" stroke-width="0.8" fill="none"/>
<path d="M233.70 561.50L236.60 566.57H230.80Z" stroke="#f06030" stroke-width="0.8" fill="none"/>
<path d="M233.70 567.40L236.60 572.47H230.80Z" stroke="#f06030" stroke-width="0.8" fill="none"/>
<path d="M233.70 569.40L236.60 574.47H230.80Z" stroke="#f06030" stroke-width="0.8" fill="none"/>
<path d="M233.70 572.40L236.60 577.47H230.80Z" stroke="#f06030" stroke-width="0.8" fill="none"/>
<path d="M233.70 579.80L236.60 584.88H230.80Z" stroke="#f06030" stroke-width="0.8" fill="none"/>
<path d="M269.20 520.80L271.70 523.30L269.20 525.80L266.70 523.30Z" stroke="#222222" stroke-width="1" fill="none"/>
<path d="M269.20 523.80L271.70 526.30L269.20 528.80L266.70 526.30Z" stroke="#222222" stroke-width="1" fill="none"/>
<path d="M269.20 529.70L271.70 532.20L269.20 534.70L266.70 532.20Z" stroke="#222222" stroke-width="1" fill="none"/>
<path d="M269.20 531.70L271.70 534.20L269.20 536.70L266.70 534.20Z" stroke="#222222" stroke-width="1" fill="none"/>
<path d="M269.20 536.20L271.70 538.70L269.20 541.20L266.70 538.70Z" stroke="#222222" stroke-width="1" fill="none"/>
<path d="M269.20 542.10L271.70 544.60L269.20 547.10L266.70 544.60Z" stroke="#222222" stroke-width="1" fill="none"/>
<path d="M269.20 546.10L271.70 548.60L269.20 551.10L266.70 548.60Z" stroke="#222222" stroke-width="1" fill="none"/>
<path d="M269.20 547.50L271.70 550.00L269.20 552.50L266.70 550.00Z" stroke="#222222" stroke-width="1" fill="none"/>
<rect x="55.50" y="482.50" width="249.00" height="164.00" stroke="#777777" stroke-width="1.1" fill="none"/>
<text x="50.50" y="485.40" font-size="8.6" text-anchor="end">0</text>
<text x="50.50" y="507.27" font-size="8.6" text-anchor="end">-0.2</text>
<text x="50.50" y="529.13" font-size="8.6" text-anchor="end">-0.4</text>
<text x="50.50" y="551.00" font-size="8.6" text-anchor="end">-0.6</text>
<text x="50.50" y="572.87" font-size="8.6" text-anchor="end">-0.8</text>
<text x="50.50" y="594.73" font-size="8.6" text-anchor="end">-1</text>
<text x="50.50" y="616.60" font-size="8.6" text-anchor="end">-1.2</text>
<text x="50.50" y="638.47" font-size="8.6" text-anchor="end">-1.4</text>
<text x="91.07" y="658.40" font-size="8.6" text-anchor="middle">1</text>
<text x="126.64" y="658.40" font-size="8.6" text-anchor="middle">2</text>
<text x="162.21" y="658.40" font-size="8.6" text-anchor="middle">3</text>
<text x="197.79" y="658.40" font-size="8.6" text-anchor="middle">4</text>
<text x="233.36" y="658.40" font-size="8.6" text-anchor="middle">5</text>
<text x="268.93" y="658.40" font-size="8.6" text-anchor="middle">6</text>
<text x="180.00" y="671.30" font-size="8.6" text-anchor="middle">Number of Si Atoms at 1NN to <tspan font-style="italic">P-V</tspan></text>
<text transform="translate(23.90,564.50) rotate(-90)" x="0" y="0" font-size="8.6" text-anchor="middle">Binding Energy (eV)</text>
<text x="142.30" y="475.00" font-size="8.7">Si<tspan font-size="6.0" dy="1.8">1-x</tspan><tspan dy="-1.8">Ge</tspan><tspan font-size="6.0" dy="1.8">x</tspan><tspan dy="-1.8"> (x = 0.625)</tspan></text>
<text x="0.00" y="479.00" font-size="14" letter-spacing="0.9" style="stroke-width:0">(e)</text>
<path d="M402.50 504.37H651.50M402.50 526.23H651.50M402.50 548.10H651.50M402.50 569.97H651.50M402.50 591.83H651.50M402.50 613.70H651.50M402.50 635.57H651.50M473.64 482.50V646.50M509.21 482.50V646.50M544.79 482.50V646.50M580.36 482.50V646.50M615.93 482.50V646.50" stroke="#dcdcdc" stroke-width="0.8" stroke-dasharray="5,1" fill="none"/>
<path d="M402.50 482.50h3.5M651.50 482.50h-3.5M402.50 504.37h3.5M651.50 504.37h-3.5M402.50 526.23h3.5M651.50 526.23h-3.5M402.50 548.10h3.5M651.50 548.10h-3.5M402.50 569.97h3.5M651.50 569.97h-3.5M402.50 591.83h3.5M651.50 591.83h-3.5M402.50 613.70h3.5M651.50 613.70h-3.5M402.50 635.57h3.5M651.50 635.57h-3.5M473.64 646.50v-3.0M473.64 482.50v3.0M509.21 646.50v-3.0M509.21 482.50v3.0M544.79 646.50v-3.0M544.79 482.50v3.0M580.36 646.50v-3.0M580.36 482.50v3.0M615.93 646.50v-3.0M615.93 482.50v3.0" stroke="#555" stroke-width="0.9" fill="none"/>
<path d="M470.80 532.80L476.40 538.40M470.80 538.40L476.40 532.80" stroke="#3434e0" stroke-width="0.8" fill="none"/><path d="M470.80 535.60H476.40M473.60 532.80V538.40" stroke="#3434e0" stroke-width="0.8" stroke-opacity="0.35" fill="none"/>
<path d="M470.80 549.50L476.40 555.10M470.80 555.10L476.40 549.50" stroke="#3434e0" stroke-width="0.8" fill="none"/><path d="M470.80 552.30H476.40M473.60 549.50V555.10" stroke="#3434e0" stroke-width="0.8" stroke-opacity="0.35" fill="none"/>
<path d="M470.80 564.50L476.40 570.10M470.80 570.10L476.40 564.50" stroke="#3434e0" stroke-width="0.8" fill="none"/><path d="M470.80 567.30H476.40M473.60 564.50V570.10" stroke="#3434e0" stroke-width="0.8" stroke-opacity="0.35" fill="none"/>
<path d="M470.80 570.80L476.40 576.40M470.80 576.40L476.40 570.80" stroke="#3434e0" stroke-width="0.8" fill="none"/><path d="M470.80 573.60H476.40M473.60 570.80V576.40" stroke="#3434e0" stroke-width="0.8" stroke-opacity="0.35" fill="none"/>
<path d="M470.80 574.30L476.40 579.90M470.80 579.90L476.40 574.30" stroke="#3434e0" stroke-width="0.8" fill="none"/><path d="M470.80 577.10H476.40M473.60 574.30V579.90" stroke="#3434e0" stroke-width="0.8" stroke-opacity="0.35" fill="none"/>
<path d="M470.80 599.10L476.40 604.70M470.80 604.70L476.40 599.10" stroke="#3434e0" stroke-width="0.8" fill="none"/><path d="M470.80 601.90H476.40M473.60 599.10V604.70" stroke="#3434e0" stroke-width="0.8" stroke-opacity="0.35" fill="none"/>
<path d="M470.80 606.60L476.40 612.20M470.80 612.20L476.40 606.60" stroke="#3434e0" stroke-width="0.8" fill="none"/><path d="M470.80 609.40H476.40M473.60 606.60V612.20" stroke="#3434e0" stroke-width="0.8" stroke-opacity="0.35" fill="none"/>
<path d="M470.80 609.50L476.40 615.10M470.80 615.10L476.40 609.50" stroke="#3434e0" stroke-width="0.8" fill="none"/><path d="M470.80 612.30H476.40M473.60 609.50V615.10" stroke="#3434e0" stroke-width="0.8" stroke-opacity="0.35" fill="none"/>
<path d="M470.80 611.20L476.40 616.80M470.80 616.80L476.40 611.20" stroke="#3434e0" stroke-width="0.8" fill="none"/><path d="M470.80 614.00H476.40M473.60 611.20V616.80" stroke="#3434e0" stroke-width="0.8" stroke-opacity="0.35" fill="none"/>
<path d="M470.80 612.90L476.40 618.50M470.80 618.50L476.40 612.90" stroke="#3434e0" stroke-width="0.8" fill="none"/><path d="M470.80 615.70H476.40M473.60 612.90V618.50" stroke="#3434e0" stroke-width="0.8" stroke-opacity="0.35" fill="none"/>
<rect x="506.20" y="525.00" width="5.60" height="5.60" stroke="#e27af2" stroke-width="0.8" fill="none"/>
<rect x="506.20" y="546.60" width="5.60" height="5.60" stroke="#e27af2" stroke-width="0.8" fill="none"/>
<rect x="506.20" y="576.60" width="5.60" height="5.60" stroke="#e27af2" stroke-width="0.8" fill="none"/>
<rect x="506.20" y="610.90" width="5.60" height="5.60" stroke="#e27af2" stroke-width="0.8" fill="none"/>
<circle cx="544.80" cy="511.00" r="2.6" stroke="#30d4dc" stroke-width="0.8" fill="none"/>
<circle cx="544.80" cy="515.00" r="2.6" stroke="#30d4dc" stroke-width="0.8" fill="none"/>
<circle cx="544.80" cy="519.00" r="2.6" stroke="#30d4dc" stroke-width="0.8" fill="none"/>
<circle cx="544.80" cy="523.00" r="2.6" stroke="#30d4dc" stroke-width="0.8" fill="none"/>
<circle cx="544.80" cy="527.00" r="2.6" stroke="#30d4dc" stroke-width="0.8" fill="none"/>
<circle cx="544.80" cy="537.00" r="2.6" stroke="#30d4dc" stroke-width="0.8" fill="none"/>
<circle cx="544.80" cy="539.48" r="2.6" stroke="#30d4dc" stroke-width="0.8" fill="none"/>
<circle cx="544.80" cy="541.96" r="2.6" stroke="#30d4dc" stroke-width="0.8" fill="none"/>
<circle cx="544.80" cy="544.44" r="2.6" stroke="#30d4dc" stroke-width="0.8" fill="none"/>
<circle cx="544.80" cy="546.92" r="2.6" stroke="#30d4dc" stroke-width="0.8" fill="none"/>
<circle cx="544.80" cy="549.40" r="2.6" stroke="#30d4dc" stroke-width="0.8" fill="none"/>
<circle cx="544.80" cy="551.88" r="2.6" stroke="#30d4dc" stroke-width="0.8" fill="none"/>
<circle cx="544.80" cy="554.36" r="2.6" stroke="#30d4dc" stroke-width="0.8" fill="none"/>
<circle cx="544.80" cy="556.84" r="2.6" stroke="#30d4dc" stroke-width="0.8" fill="none"/>
<circle cx="544.80" cy="559.32" r="2.6" stroke="#30d4dc" stroke-width="0.8" fill="none"/>
<circle cx="544.80" cy="561.80" r="2.6" stroke="#30d4dc" stroke-width="0.8" fill="none"/>
<circle cx="544.80" cy="564.28" r="2.6" stroke="#30d4dc" stroke-width="0.8" fill="none"/>
<circle cx="544.80" cy="566.76" r="2.6" stroke="#30d4dc" stroke-width="0.8" fill="none"/>
<circle cx="544.80" cy="569.24" r="2.6" stroke="#30d4dc" stroke-width="0.8" fill="none"/>
<circle cx="544.80" cy="571.72" r="2.6" stroke="#30d4dc" stroke-width="0.8" fill="none"/>
<circle cx="544.80" cy="574.20" r="2.6" stroke="#30d4dc" stroke-width="0.8" fill="none"/>
<circle cx="544.80" cy="576.68" r="2.6" stroke="#30d4dc" stroke-width="0.8" fill="none"/>
<circle cx="544.80" cy="579.16" r="2.6" stroke="#30d4dc" stroke-width="0.8" fill="none"/>
<circle cx="544.80" cy="581.64" r="2.6" stroke="#30d4dc" stroke-width="0.8" fill="none"/>
<circle cx="544.80" cy="584.12" r="2.6" stroke="#30d4dc" stroke-width="0.8" fill="none"/>
<circle cx="544.80" cy="586.60" r="2.6" stroke="#30d4dc" stroke-width="0.8" fill="none"/>
<circle cx="544.80" cy="589.08" r="2.6" stroke="#30d4dc" stroke-width="0.8" fill="none"/>
<circle cx="544.80" cy="591.56" r="2.6" stroke="#30d4dc" stroke-width="0.8" fill="none"/>
<circle cx="544.80" cy="594.04" r="2.6" stroke="#30d4dc" stroke-width="0.8" fill="none"/>
<circle cx="544.80" cy="596.52" r="2.6" stroke="#30d4dc" stroke-width="0.8" fill="none"/>
<circle cx="544.80" cy="599.00" r="2.6" stroke="#30d4dc" stroke-width="0.8" fill="none"/>
<circle cx="544.80" cy="613.20" r="2.6" stroke="#30d4dc" stroke-width="0.8" fill="none"/>
<circle cx="544.80" cy="617.10" r="2.6" stroke="#30d4dc" stroke-width="0.8" fill="none"/>
<path d="M580.10 506.90L583.00 511.98H577.20Z" stroke="#f06030" stroke-width="0.8" fill="none"/>
<path d="M580.10 513.60L583.00 518.67H577.20Z" stroke="#f06030" stroke-width="0.8" fill="none"/>
<path d="M580.10 515.40L583.00 520.47H577.20Z" stroke="#f06030" stroke-width="0.8" fill="none"/>
<path d="M580.10 520.20L583.00 525.27H577.20Z" stroke="#f06030" stroke-width="0.8" fill="none"/>
<path d="M580.10 522.60L583.00 527.67H577.20Z" stroke="#f06030" stroke-width="0.8" fill="none"/>
<path d="M580.10 525.70L583.00 530.77H577.20Z" stroke="#f06030" stroke-width="0.8" fill="none"/>
<path d="M580.10 528.70L583.00 533.77H577.20Z" stroke="#f06030" stroke-width="0.8" fill="none"/>
<path d="M580.10 531.70L583.00 536.77H577.20Z" stroke="#f06030" stroke-width="0.8" fill="none"/>
<path d="M580.10 538.30L583.00 543.38H577.20Z" stroke="#f06030" stroke-width="0.8" fill="none"/>
<path d="M580.10 541.40L583.00 546.47H577.20Z" stroke="#f06030" stroke-width="0.8" fill="none"/>
<path d="M580.10 545.00L583.00 550.07H577.20Z" stroke="#f06030" stroke-width="0.8" fill="none"/>
<path d="M580.10 549.80L583.00 554.88H577.20Z" stroke="#f06030" stroke-width="0.8" fill="none"/>
<path d="M580.10 554.00L583.00 559.07H577.20Z" stroke="#f06030" stroke-width="0.8" fill="none"/>
<path d="M580.10 556.40L583.00 561.47H577.20Z" stroke="#f06030" stroke-width="0.8" fill="none"/>
<path d="M580.10 558.90L583.00 563.97H577.20Z" stroke="#f06030" stroke-width="0.8" fill="none"/>
<path d="M580.10 561.30L583.00 566.38H577.20Z" stroke="#f06030" stroke-width="0.8" fill="none"/>
<path d="M580.10 563.70L583.00 568.77H577.20Z" stroke="#f06030" stroke-width="0.8" fill="none"/>
<path d="M580.10 571.50L583.00 576.57H577.20Z" stroke="#f06030" stroke-width="0.8" fill="none"/>
<path d="M580.10 575.20L583.00 580.27H577.20Z" stroke="#f06030" stroke-width="0.8" fill="none"/>
<path d="M580.10 581.80L583.00 586.88H577.20Z" stroke="#f06030" stroke-width="0.8" fill="none"/>
<path d="M580.10 585.40L583.00 590.47H577.20Z" stroke="#f06030" stroke-width="0.8" fill="none"/>
<path d="M580.10 589.10L583.00 594.17H577.20Z" stroke="#f06030" stroke-width="0.8" fill="none"/>
<path d="M580.10 591.50L583.00 596.57H577.20Z" stroke="#f06030" stroke-width="0.8" fill="none"/>
<path d="M580.10 595.10L583.00 600.17H577.20Z" stroke="#f06030" stroke-width="0.8" fill="none"/>
<path d="M580.10 598.10L583.00 603.17H577.20Z" stroke="#f06030" stroke-width="0.8" fill="none"/>
<path d="M615.70 520.00L618.20 522.50L615.70 525.00L613.20 522.50Z" stroke="#222222" stroke-width="1" fill="none"/>
<path d="M615.70 522.40L618.20 524.90L615.70 527.40L613.20 524.90Z" stroke="#222222" stroke-width="1" fill="none"/>
<path d="M615.70 524.80L618.20 527.30L615.70 529.80L613.20 527.30Z" stroke="#222222" stroke-width="1" fill="none"/>
<path d="M615.70 528.50L618.20 531.00L615.70 533.50L613.20 531.00Z" stroke="#222222" stroke-width="1" fill="none"/>
<path d="M615.70 532.10L618.20 534.60L615.70 537.10L613.20 534.60Z" stroke="#222222" stroke-width="1" fill="none"/>
<path d="M615.70 534.50L618.20 537.00L615.70 539.50L613.20 537.00Z" stroke="#222222" stroke-width="1" fill="none"/>
<path d="M615.70 536.90L618.20 539.40L615.70 541.90L613.20 539.40Z" stroke="#222222" stroke-width="1" fill="none"/>
<path d="M615.70 539.30L618.20 541.80L615.70 544.30L613.20 541.80Z" stroke="#222222" stroke-width="1" fill="none"/>
<path d="M615.70 543.60L618.20 546.10L615.70 548.60L613.20 546.10Z" stroke="#222222" stroke-width="1" fill="none"/>
<path d="M615.70 546.00L618.20 548.50L615.70 551.00L613.20 548.50Z" stroke="#222222" stroke-width="1" fill="none"/>
<path d="M615.70 559.30L618.20 561.80L615.70 564.30L613.20 561.80Z" stroke="#222222" stroke-width="1" fill="none"/>
<path d="M615.70 571.90L618.20 574.40L615.70 576.90L613.20 574.40Z" stroke="#222222" stroke-width="1" fill="none"/>
<path d="M615.70 573.80L618.20 576.30L615.70 578.80L613.20 576.30Z" stroke="#222222" stroke-width="1" fill="none"/>
<path d="M615.70 577.40L618.20 579.90L615.70 582.40L613.20 579.90Z" stroke="#222222" stroke-width="1" fill="none"/>
<path d="M615.70 583.40L618.20 585.90L615.70 588.40L613.20 585.90Z" stroke="#222222" stroke-width="1" fill="none"/>
<rect x="402.50" y="482.50" width="249.00" height="164.00" stroke="#777777" stroke-width="1.1" fill="none"/>
<text x="397.50" y="485.40" font-size="8.6" text-anchor="end">0</text>
<text x="397.50" y="507.27" font-size="8.6" text-anchor="end">-0.2</text>
<text x="397.50" y="529.13" font-size="8.6" text-anchor="end">-0.4</text>
<text x="397.50" y="551.00" font-size="8.6" text-anchor="end">-0.6</text>
<text x="397.50" y="572.87" font-size="8.6" text-anchor="end">-0.8</text>
<text x="397.50" y="594.73" font-size="8.6" text-anchor="end">-1</text>
<text x="397.50" y="616.60" font-size="8.6" text-anchor="end">-1.2</text>
<text x="397.50" y="638.47" font-size="8.6" text-anchor="end">-1.4</text>
<text x="473.64" y="658.40" font-size="8.6" text-anchor="middle">2</text>
<text x="509.21" y="658.40" font-size="8.6" text-anchor="middle">3</text>
<text x="544.79" y="658.40" font-size="8.6" text-anchor="middle">4</text>
<text x="580.36" y="658.40" font-size="8.6" text-anchor="middle">5</text>
<text x="615.93" y="658.40" font-size="8.6" text-anchor="middle">6</text>
<text x="527.00" y="671.30" font-size="8.6" text-anchor="middle">Number of Si Atoms at 1NN to <tspan font-style="italic">P-V</tspan></text>
<text transform="translate(370.90,564.50) rotate(-90)" x="0" y="0" font-size="8.6" text-anchor="middle">Binding Energy (eV)</text>
<text x="499.10" y="475.00" font-size="8.7">Si<tspan font-size="6.0" dy="1.8">1-x</tspan><tspan dy="-1.8">Ge</tspan><tspan font-size="6.0" dy="1.8">x</tspan><tspan dy="-1.8"> (x = 0.85)</tspan></text>
<text x="357.70" y="479.00" font-size="14" letter-spacing="0.9" style="stroke-width:0">(f)</text>
<path d="M55.50 748.62H304.50M55.50 775.93H304.50M55.50 803.25H304.50M55.50 830.57H304.50M55.50 857.88H304.50M105.30 721.30V885.20M155.10 721.30V885.20M204.90 721.30V885.20M254.70 721.30V885.20" stroke="#dcdcdc" stroke-width="0.8" stroke-dasharray="5,1" fill="none"/>
<path d="M55.50 721.30h3.5M304.50 721.30h-3.5M55.50 748.62h3.5M304.50 748.62h-3.5M55.50 775.93h3.5M304.50 775.93h-3.5M55.50 803.25h3.5M304.50 803.25h-3.5M55.50 830.57h3.5M304.50 830.57h-3.5M55.50 857.88h3.5M304.50 857.88h-3.5M55.50 885.20h3.5M304.50 885.20h-3.5M105.30 885.20v-3.0M105.30 721.30v3.0M155.10 885.20v-3.0M155.10 721.30v3.0M204.90 885.20v-3.0M204.90 721.30v3.0M254.70 885.20v-3.0M254.70 721.30v3.0" stroke="#555" stroke-width="0.9" fill="none"/>
<rect x="102.80" y="775.90" width="5.60" height="5.60" stroke="#e27af2" stroke-width="0.8" fill="none"/>
<rect x="102.80" y="790.60" width="5.60" height="5.60" stroke="#e27af2" stroke-width="0.8" fill="none"/>
<rect x="102.80" y="827.60" width="5.60" height="5.60" stroke="#e27af2" stroke-width="0.8" fill="none"/>
<rect x="102.80" y="828.90" width="5.60" height="5.60" stroke="#e27af2" stroke-width="0.8" fill="none"/>
<circle cx="155.30" cy="753.50" r="2.6" stroke="#30d4dc" stroke-width="0.8" fill="none"/>
<circle cx="155.30" cy="760.40" r="2.6" stroke="#30d4dc" stroke-width="0.8" fill="none"/>
<circle cx="155.30" cy="762.40" r="2.6" stroke="#30d4dc" stroke-width="0.8" fill="none"/>
<circle cx="155.30" cy="764.40" r="2.6" stroke="#30d4dc" stroke-width="0.8" fill="none"/>
<circle cx="155.30" cy="769.00" r="2.6" stroke="#30d4dc" stroke-width="0.8" fill="none"/>
<circle cx="155.30" cy="786.80" r="2.6" stroke="#30d4dc" stroke-width="0.8" fill="none"/>
<circle cx="155.30" cy="797.40" r="2.6" stroke="#30d4dc" stroke-width="0.8" fill="none"/>
<circle cx="155.30" cy="799.40" r="2.6" stroke="#30d4dc" stroke-width="0.8" fill="none"/>
<circle cx="155.30" cy="803.30" r="2.6" stroke="#30d4dc" stroke-width="0.8" fill="none"/>
<circle cx="155.30" cy="830.40" r="2.6" stroke="#30d4dc" stroke-width="0.8" fill="none"/>
<circle cx="155.30" cy="833.00" r="2.6" stroke="#30d4dc" stroke-width="0.8" fill="none"/>
<circle cx="155.30" cy="835.60" r="2.6" stroke="#30d4dc" stroke-width="0.8" fill="none"/>
<circle cx="155.30" cy="838.30" r="2.6" stroke="#30d4dc" stroke-width="0.8" fill="none"/>
<circle cx="155.30" cy="842.90" r="2.6" stroke="#30d4dc" stroke-width="0.8" fill="none"/>
<path d="M205.20 749.10L208.10 754.17H202.30Z" stroke="#f06030" stroke-width="0.8" fill="none"/>
<path d="M205.20 751.10L208.10 756.17H202.30Z" stroke="#f06030" stroke-width="0.8" fill="none"/>
<path d="M205.20 754.10L208.10 759.17H202.30Z" stroke="#f06030" stroke-width="0.8" fill="none"/>
<path d="M205.20 756.60L208.10 761.67H202.30Z" stroke="#f06030" stroke-width="0.8" fill="none"/>
<path d="M205.20 759.10L208.10 764.17H202.30Z" stroke="#f06030" stroke-width="0.8" fill="none"/>
<path d="M205.20 762.10L208.10 767.17H202.30Z" stroke="#f06030" stroke-width="0.8" fill="none"/>
<path d="M205.20 764.10L208.10 769.17H202.30Z" stroke="#f06030" stroke-width="0.8" fill="none"/>
<path d="M205.20 766.10L208.10 771.17H202.30Z" stroke="#f06030" stroke-width="0.8" fill="none"/>
<path d="M205.20 768.10L208.10 773.17H202.30Z" stroke="#f06030" stroke-width="0.8" fill="none"/>
<path d="M205.20 770.10L208.10 775.17H202.30Z" stroke="#f06030" stroke-width="0.8" fill="none"/>
<path d="M205.20 772.60L208.10 777.67H202.30Z" stroke="#f06030" stroke-width="0.8" fill="none"/>
<path d="M205.20 775.10L208.10 780.17H202.30Z" stroke="#f06030" stroke-width="0.8" fill="none"/>
<path d="M205.20 777.60L208.10 782.67H202.30Z" stroke="#f06030" stroke-width="0.8" fill="none"/>
<path d="M205.20 782.60L208.10 787.67H202.30Z" stroke="#f06030" stroke-width="0.8" fill="none"/>
<path d="M205.20 786.10L208.10 791.17H202.30Z" stroke="#f06030" stroke-width="0.8" fill="none"/>
<path d="M205.20 790.10L208.10 795.17H202.30Z" stroke="#f06030" stroke-width="0.8" fill="none"/>
<path d="M205.20 792.10L208.10 797.17H202.30Z" stroke="#f06030" stroke-width="0.8" fill="none"/>
<path d="M205.20 794.10L208.10 799.17H202.30Z" stroke="#f06030" stroke-width="0.8" fill="none"/>
<path d="M205.20 796.10L208.10 801.17H202.30Z" stroke="#f06030" stroke-width="0.8" fill="none"/>
<path d="M205.20 798.10L208.10 803.17H202.30Z" stroke="#f06030" stroke-width="0.8" fill="none"/>
<path d="M205.20 800.10L208.10 805.17H202.30Z" stroke="#f06030" stroke-width="0.8" fill="none"/>
<path d="M205.20 802.10L208.10 807.17H202.30Z" stroke="#f06030" stroke-width="0.8" fill="none"/>
<path d="M205.20 804.10L208.10 809.17H202.30Z" stroke="#f06030" stroke-width="0.8" fill="none"/>
<path d="M205.20 808.60L208.10 813.67H202.30Z" stroke="#f06030" stroke-width="0.8" fill="none"/>
<path d="M205.20 811.10L208.10 816.17H202.30Z" stroke="#f06030" stroke-width="0.8" fill="none"/>
<path d="M205.20 827.10L208.10 832.17H202.30Z" stroke="#f06030" stroke-width="0.8" fill="none"/>
<path d="M205.20 834.60L208.10 839.67H202.30Z" stroke="#f06030" stroke-width="0.8" fill="none"/>
<path d="M254.90 750.90L257.40 753.40L254.90 755.90L252.40 753.40Z" stroke="#222222" stroke-width="1" fill="none"/>
<path d="M254.90 752.80L257.40 755.30L254.90 757.80L252.40 755.30Z" stroke="#222222" stroke-width="1" fill="none"/>
<path d="M254.90 757.50L257.40 760.00L254.90 762.50L252.40 760.00Z" stroke="#222222" stroke-width="1" fill="none"/>
<path d="M254.90 758.71L257.40 761.21L254.90 763.71L252.40 761.21Z" stroke="#222222" stroke-width="1" fill="none"/>
<path d="M254.90 759.92L257.40 762.42L254.90 764.92L252.40 762.42Z" stroke="#222222" stroke-width="1" fill="none"/>
<path d="M254.90 761.13L257.40 763.63L254.90 766.13L252.40 763.63Z" stroke="#222222" stroke-width="1" fill="none"/>
<path d="M254.90 762.34L257.40 764.84L254.90 767.34L252.40 764.84Z" stroke="#222222" stroke-width="1" fill="none"/>
<path d="M254.90 763.55L257.40 766.05L254.90 768.55L252.40 766.05Z" stroke="#222222" stroke-width="1" fill="none"/>
<path d="M254.90 764.76L257.40 767.26L254.90 769.76L252.40 767.26Z" stroke="#222222" stroke-width="1" fill="none"/>
<path d="M254.90 765.97L257.40 768.47L254.90 770.97L252.40 768.47Z" stroke="#222222" stroke-width="1" fill="none"/>
<path d="M254.90 767.18L257.40 769.68L254.90 772.18L252.40 769.68Z" stroke="#222222" stroke-width="1" fill="none"/>
<path d="M254.90 768.39L257.40 770.89L254.90 773.39L252.40 770.89Z" stroke="#222222" stroke-width="1" fill="none"/>
<path d="M254.90 769.61L257.40 772.11L254.90 774.61L252.40 772.11Z" stroke="#222222" stroke-width="1" fill="none"/>
<path d="M254.90 770.82L257.40 773.32L254.90 775.82L252.40 773.32Z" stroke="#222222" stroke-width="1" fill="none"/>
<path d="M254.90 772.03L257.40 774.53L254.90 777.03L252.40 774.53Z" stroke="#222222" stroke-width="1" fill="none"/>
<path d="M254.90 773.24L257.40 775.74L254.90 778.24L252.40 775.74Z" stroke="#222222" stroke-width="1" fill="none"/>
<path d="M254.90 774.45L257.40 776.95L254.90 779.45L252.40 776.95Z" stroke="#222222" stroke-width="1" fill="none"/>
<path d="M254.90 775.66L257.40 778.16L254.90 780.66L252.40 778.16Z" stroke="#222222" stroke-width="1" fill="none"/>
<path d="M254.90 776.87L257.40 779.37L254.90 781.87L252.40 779.37Z" stroke="#222222" stroke-width="1" fill="none"/>
<path d="M254.90 778.08L257.40 780.58L254.90 783.08L252.40 780.58Z" stroke="#222222" stroke-width="1" fill="none"/>
<path d="M254.90 779.29L257.40 781.79L254.90 784.29L252.40 781.79Z" stroke="#222222" stroke-width="1" fill="none"/>
<path d="M254.90 780.50L257.40 783.00L254.90 785.50L252.40 783.00Z" stroke="#222222" stroke-width="1" fill="none"/>
<path d="M254.90 788.30L257.40 790.80L254.90 793.30L252.40 790.80Z" stroke="#222222" stroke-width="1" fill="none"/>
<path d="M254.90 791.60L257.40 794.10L254.90 796.60L252.40 794.10Z" stroke="#222222" stroke-width="1" fill="none"/>
<path d="M254.90 804.60L257.40 807.10L254.90 809.60L252.40 807.10Z" stroke="#222222" stroke-width="1" fill="none"/>
<path d="M254.90 810.70L257.40 813.20L254.90 815.70L252.40 813.20Z" stroke="#222222" stroke-width="1" fill="none"/>
<path d="M254.90 812.10L257.40 814.60L254.90 817.10L252.40 814.60Z" stroke="#222222" stroke-width="1" fill="none"/>
<path d="M254.90 819.10L257.40 821.60L254.90 824.10L252.40 821.60Z" stroke="#222222" stroke-width="1" fill="none"/>
<rect x="55.50" y="721.30" width="249.00" height="163.90" stroke="#777777" stroke-width="1.1" fill="none"/>
<text x="50.50" y="724.20" font-size="8.6" text-anchor="end">-0.4</text>
<text x="50.50" y="751.52" font-size="8.6" text-anchor="end">-0.6</text>
<text x="50.50" y="778.83" font-size="8.6" text-anchor="end">-0.8</text>
<text x="50.50" y="806.15" font-size="8.6" text-anchor="end">-1</text>
<text x="50.50" y="833.47" font-size="8.6" text-anchor="end">-1.2</text>
<text x="50.50" y="860.78" font-size="8.6" text-anchor="end">-1.4</text>
<text x="50.50" y="888.10" font-size="8.6" text-anchor="end">-1.6</text>
<text x="105.30" y="897.10" font-size="8.6" text-anchor="middle">3</text>
<text x="155.10" y="897.10" font-size="8.6" text-anchor="middle">4</text>
<text x="204.90" y="897.10" font-size="8.6" text-anchor="middle">5</text>
<text x="254.70" y="897.10" font-size="8.6" text-anchor="middle">6</text>
<text x="180.00" y="910.00" font-size="8.6" text-anchor="middle">Number of Si Atoms at 1NN to <tspan font-style="italic">P-V</tspan></text>
<text transform="translate(23.90,803.25) rotate(-90)" x="0" y="0" font-size="8.6" text-anchor="middle">Binding Energy (eV)</text>
<text x="142.30" y="709.60" font-size="8.7">Si<tspan font-size="6.0" dy="1.8">1-x</tspan><tspan dy="-1.8">Ge</tspan><tspan font-size="6.0" dy="1.8">x</tspan><tspan dy="-1.8"> (x = 0.75)</tspan></text>
<text x="0.00" y="713.30" font-size="14" letter-spacing="0.9" style="stroke-width:0">(g)</text>
</svg></div>
</body></html>
